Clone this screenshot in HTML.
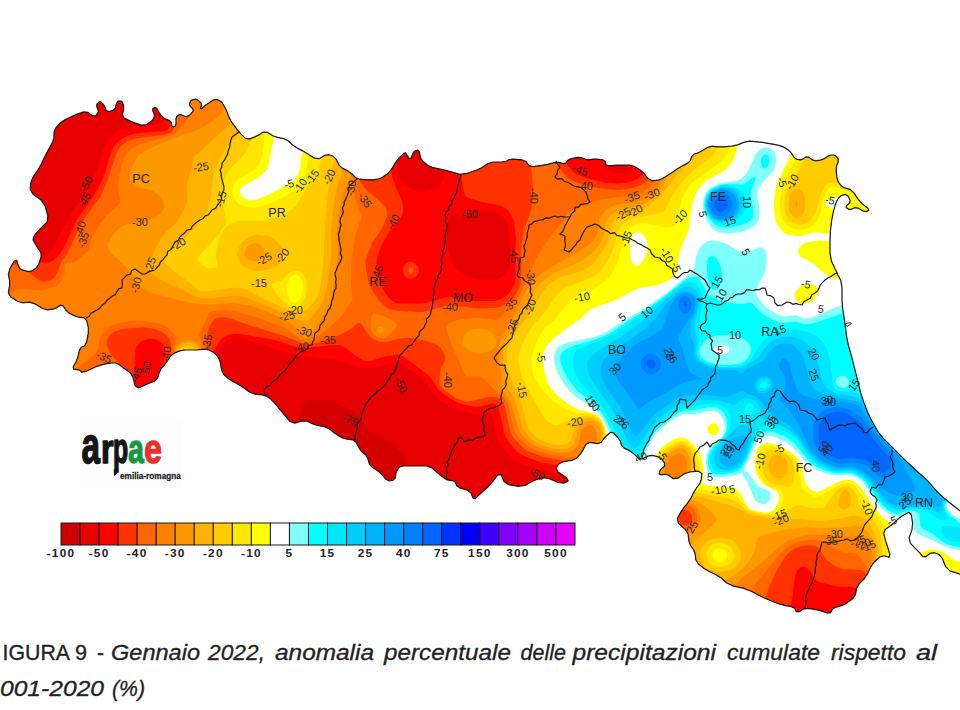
<!DOCTYPE html>
<html><head><meta charset="utf-8"><title>Figura 9</title>
<style>
html,body{margin:0;padding:0;background:#fff;}
body{width:960px;height:710px;overflow:hidden;position:relative;font-family:"Liberation Sans",sans-serif;}
svg{position:absolute;left:0;top:0;}
</style></head><body>
<svg width="960" height="710" viewBox="0 0 960 710">
<defs><clipPath id="reg"><path d="M16.7,260.2 L18.3,265.8 L19.7,268.4 L21.3,269.6 L23.8,270.4 L28.2,271.6 L31.8,270.9 L36.2,268.1 L38.9,264.1 L41.1,256.9 L40.9,252.5 L38.1,248.5 L35.9,245.0 L33.1,240.0 L34.0,235.8 L39.0,230.2 L42.8,226.2 L47.2,221.8 L47.9,216.0 L45.1,206.0 L40.9,199.8 L33.1,194.2 L30.2,189.4 L30.8,182.6 L33.0,177.1 L38.0,169.9 L41.3,164.1 L44.7,156.9 L47.8,150.9 L52.2,143.1 L54.0,137.8 L54.0,132.2 L55.8,128.0 L60.2,123.0 L64.9,119.7 L72.1,116.3 L77.4,114.1 L83.6,111.9 L87.8,112.3 L92.2,115.7 L95.1,115.9 L97.9,113.1 L98.3,110.5 L96.7,106.5 L96.9,104.1 L99.1,101.9 L100.9,101.9 L103.1,104.1 L104.7,106.5 L106.3,110.5 L108.8,111.6 L113.2,110.4 L115.4,108.0 L116.6,103.0 L118.1,101.0 L120.9,101.0 L122.4,102.3 L123.6,105.7 L123.6,109.2 L122.4,114.8 L124.2,118.1 L129.8,120.9 L134.6,122.9 L141.4,125.1 L145.8,124.9 L150.2,122.1 L152.7,119.9 L154.3,117.1 L154.3,114.5 L152.7,110.5 L152.9,108.6 L155.1,107.4 L156.9,108.5 L159.1,112.5 L161.1,115.1 L163.9,117.9 L166.3,119.4 L169.7,120.6 L171.2,122.3 L171.8,125.7 L172.9,126.8 L175.1,126.2 L176.0,124.0 L176.0,119.0 L176.9,116.3 L179.1,114.7 L181.3,114.7 L184.7,116.3 L186.9,116.6 L189.1,115.4 L190.9,113.9 L193.1,111.1 L192.9,108.9 L190.1,106.1 L189.4,103.9 L190.6,101.1 L192.3,99.8 L195.7,99.2 L198.1,100.1 L200.9,102.9 L201.6,105.3 L200.4,108.7 L201.5,108.7 L205.5,105.3 L208.8,102.9 L213.2,100.1 L216.3,99.4 L219.7,100.6 L222.1,102.8 L224.9,107.2 L226.9,111.4 L229.1,117.6 L232.0,122.6 L237.0,129.4 L240.8,133.8 L245.2,138.2 L249.2,139.1 L254.8,136.9 L258.8,134.9 L263.2,132.1 L267.2,132.3 L272.8,135.7 L277.4,137.4 L283.6,138.6 L288.0,140.8 L293.0,145.2 L297.2,148.1 L302.8,150.9 L307.6,153.8 L314.4,158.2 L319.2,158.7 L324.8,155.3 L328.8,154.7 L333.2,156.3 L336.1,159.2 L338.9,164.8 L342.2,168.1 L347.8,170.9 L351.5,173.5 L355.5,177.5 L359.9,179.2 L367.1,179.8 L372.2,179.8 L377.8,179.2 L382.2,177.5 L387.8,173.5 L391.5,169.4 L395.5,162.6 L398.8,158.2 L403.2,153.8 L405.4,152.7 L406.6,154.3 L407.7,156.1 L409.3,158.9 L410.9,158.0 L413.1,153.0 L415.1,150.8 L417.9,150.2 L419.4,152.2 L420.6,157.8 L423.0,161.5 L428.0,165.5 L432.2,167.4 L437.8,168.6 L442.6,169.7 L449.4,171.3 L454.2,172.7 L459.8,174.3 L466.0,173.7 L476.0,170.3 L482.2,167.5 L487.8,163.5 L493.3,162.0 L501.7,162.0 L506.1,161.3 L508.9,159.7 L513.3,159.2 L521.7,159.8 L526.1,161.5 L528.9,165.5 L533.3,166.6 L541.7,165.4 L547.6,164.3 L554.4,162.7 L558.8,162.4 L563.2,163.6 L565.9,162.9 L568.1,160.1 L571.4,158.6 L577.6,157.4 L581.5,157.7 L585.5,159.3 L588.8,159.8 L593.2,159.2 L597.2,159.2 L602.8,159.8 L605.2,161.3 L605.8,164.7 L609.1,165.8 L616.9,165.2 L622.6,165.0 L629.4,165.0 L634.2,166.3 L639.8,169.7 L643.8,173.2 L648.2,178.8 L652.2,180.8 L657.8,180.2 L662.2,178.7 L667.8,175.3 L672.2,172.5 L677.8,168.5 L682.2,165.9 L687.8,163.1 L690.4,160.5 L691.6,156.5 L693.8,154.3 L698.2,152.7 L702.2,150.7 L707.8,147.3 L712.2,146.2 L717.8,146.8 L723.3,146.8 L731.7,146.2 L737.6,144.9 L744.4,142.1 L749.9,141.2 L757.1,141.8 L762.6,142.4 L769.4,143.6 L774.2,144.4 L779.8,145.6 L783.8,147.1 L788.2,149.9 L791.1,152.8 L793.9,157.2 L796.5,159.2 L800.5,159.8 L803.1,159.1 L805.9,156.9 L808.5,157.1 L812.5,159.9 L815.8,160.8 L820.2,160.2 L823.8,158.9 L828.2,156.1 L831.1,155.0 L833.9,155.0 L835.9,156.1 L838.1,158.9 L838.3,161.5 L836.7,165.5 L836.2,169.9 L836.8,177.1 L838.1,181.5 L840.9,185.5 L844.2,187.7 L849.8,189.3 L853.8,192.6 L858.2,199.4 L862.2,203.8 L867.8,208.2 L868.9,210.4 L866.1,211.6 L863.0,210.9 L858.0,208.1 L854.7,207.7 L851.3,209.3 L848.9,209.3 L846.1,207.7 L846.3,205.9 L849.7,203.1 L850.1,200.2 L847.9,195.8 L845.5,194.4 L841.5,195.6 L839.1,197.3 L836.9,200.7 L835.1,205.3 L832.9,213.7 L831.6,221.0 L830.4,231.0 L830.0,240.1 L830.0,252.9 L831.5,261.3 L835.5,269.7 L838.1,275.2 L840.9,280.8 L842.0,287.8 L842.0,300.2 L842.7,309.0 L844.3,319.0 L845.4,326.7 L846.6,336.3 L848.1,344.0 L850.9,354.0 L853.1,362.4 L855.9,373.6 L858.1,382.4 L860.9,393.6 L863.8,402.4 L868.2,413.6 L872.2,421.7 L877.8,431.3 L883.3,438.3 L891.7,446.7 L898.3,453.3 L906.7,461.7 L913.7,468.3 L923.3,476.7 L929.9,483.3 L937.1,491.7 L944.2,498.3 L954.8,506.7 L962.5,512.6 L971.5,519.4 L975.0,534.8 L975.0,567.2 L971.7,578.7 L963.3,575.3 L957.1,573.1 L949.9,570.9 L945.7,566.7 L942.3,558.3 L939.0,554.3 L934.0,552.7 L930.2,553.3 L925.8,556.7 L922.9,556.7 L920.1,553.3 L916.6,549.6 L910.4,543.4 L909.1,537.9 L911.9,530.1 L912.6,523.5 L911.4,514.5 L908.6,512.3 L902.4,515.7 L898.5,518.5 L894.5,522.5 L890.8,525.5 L885.2,529.5 L883.7,533.4 L885.3,539.6 L887.1,545.5 L889.9,554.5 L889.0,557.3 L884.0,555.7 L879.8,557.0 L874.2,562.0 L870.7,566.9 L867.3,574.1 L864.0,579.0 L859.0,584.0 L856.6,588.4 L855.4,594.6 L852.6,598.8 L846.4,603.2 L841.6,605.7 L835.4,607.3 L832.3,609.3 L830.7,612.7 L827.6,613.1 L821.4,610.9 L815.9,609.6 L808.1,608.4 L803.2,609.1 L798.8,611.9 L796.3,611.7 L794.7,608.3 L791.4,606.6 L784.6,605.4 L778.5,603.7 L769.5,600.3 L761.8,596.8 L751.2,591.2 L743.0,588.1 L733.0,585.9 L726.8,583.0 L721.2,578.0 L716.1,574.7 L708.9,571.3 L703.8,568.2 L698.2,563.8 L695.8,559.8 L695.2,554.2 L693.7,550.0 L690.3,545.0 L688.8,540.6 L688.2,534.4 L685.4,529.6 L678.6,523.4 L677.3,518.6 L680.7,512.4 L683.8,507.8 L688.2,502.2 L691.1,497.8 L693.9,492.2 L696.3,488.2 L699.7,483.8 L701.2,479.6 L701.8,473.4 L698.7,471.2 L690.3,471.8 L684.4,473.8 L677.6,478.2 L673.2,478.7 L668.8,475.3 L665.2,474.2 L660.8,474.8 L659.2,473.9 L659.8,471.1 L661.3,468.9 L664.7,466.1 L664.7,463.2 L661.3,458.8 L657.8,456.6 L652.2,455.4 L647.8,456.1 L642.2,458.9 L638.2,458.2 L633.8,453.8 L629.8,450.9 L624.2,448.1 L621.6,445.5 L620.4,441.5 L618.2,438.0 L613.8,433.0 L610.5,432.3 L606.5,435.7 L603.9,438.5 L601.1,442.5 L597.1,443.6 L589.9,442.4 L585.9,444.2 L583.1,449.8 L580.5,453.8 L576.5,458.2 L571.7,460.4 L563.3,461.6 L558.9,463.8 L556.1,468.2 L558.3,472.2 L566.7,477.8 L568.2,480.9 L563.8,483.1 L558.3,482.5 L548.7,478.5 L542.8,477.7 L537.2,479.3 L532.1,481.5 L524.9,485.5 L518.3,486.3 L508.7,484.7 L503.9,481.4 L501.1,474.6 L497.8,474.9 L492.2,482.1 L487.8,487.0 L482.2,492.0 L478.7,495.3 L475.3,498.7 L473.1,498.0 L470.9,493.0 L467.1,490.1 L459.9,487.9 L456.6,485.7 L455.4,482.3 L453.2,480.8 L448.8,480.2 L445.5,478.9 L441.5,476.1 L437.8,473.0 L432.2,468.0 L426.7,466.0 L418.3,466.0 L411.7,466.0 L403.3,466.0 L399.1,467.3 L396.9,470.7 L395.8,473.8 L395.2,478.2 L393.2,480.2 L388.8,480.8 L385.5,479.0 L381.5,474.0 L377.8,470.7 L372.2,467.3 L369.3,463.8 L367.7,458.2 L365.5,454.7 L361.5,451.3 L358.9,447.8 L356.1,442.2 L352.8,439.8 L347.2,439.2 L343.2,438.1 L338.8,435.9 L334.8,433.2 L329.2,428.8 L324.4,426.6 L317.6,425.4 L312.8,423.9 L307.2,421.1 L302.1,420.9 L294.9,423.1 L289.8,421.4 L284.2,414.6 L279.8,409.4 L274.2,402.6 L270.5,398.9 L266.5,396.1 L262.1,394.8 L254.9,394.2 L249.4,392.0 L242.6,387.0 L237.8,383.9 L232.2,381.1 L228.2,378.5 L223.8,374.5 L221.6,370.1 L220.4,362.9 L218.9,358.5 L216.1,354.5 L213.2,352.1 L208.8,349.9 L204.4,349.2 L197.6,349.8 L192.1,350.0 L184.9,350.0 L179.8,350.9 L174.2,353.1 L170.7,356.0 L167.3,361.0 L164.7,364.5 L161.3,368.5 L159.3,372.2 L157.7,377.8 L154.8,380.9 L149.2,383.1 L144.6,385.1 L138.4,387.9 L135.1,385.7 L132.9,377.3 L130.5,372.9 L126.5,370.1 L123.2,367.7 L118.8,364.3 L115.5,363.0 L111.5,363.0 L107.8,363.4 L102.2,364.6 L96.0,366.8 L86.0,371.2 L81.6,372.3 L80.4,370.7 L78.2,369.8 L73.8,369.2 L73.1,367.0 L75.9,362.0 L77.7,357.4 L79.3,350.6 L81.3,347.3 L84.7,345.7 L86.7,341.7 L88.3,333.3 L88.3,327.4 L86.7,320.6 L84.0,317.8 L79.0,317.2 L74.8,315.9 L69.2,313.1 L65.9,310.2 L63.1,305.8 L60.5,305.1 L56.5,307.9 L52.8,309.2 L47.2,309.8 L42.1,308.2 L34.9,303.8 L29.4,302.2 L22.6,302.8 L17.4,301.2 L10.6,296.8 L8.4,292.4 L9.6,285.6 L9.6,280.6 L8.4,274.4 L9.8,268.9 L14.2,261.1Z"/></clipPath></defs>
<g clip-path="url(#reg)">
<rect x="0" y="90" width="960" height="540" fill="#d40000"/>
<path fill="#e60000" fill-rule="evenodd" d="M983.0,709.1 0.0,709.1 -0.1,0.0 983.0,-0.1 983.0,709.1ZM388.9,488.0 400.0,482.7 403.1,480.0 404.9,477.0 405.5,473.0 405.4,461.0 404.2,457.0 401.1,453.0 390.0,442.7 369.0,429.3 366.9,427.0 359.0,415.2 356.0,412.7 350.0,409.2 338.0,403.8 332.0,401.9 310.0,399.7 307.0,400.1 304.1,402.0 302.7,405.0 298.2,424.0 298.1,428.0 299.7,431.0 302.0,432.6 324.2,443.0 331.0,446.9 356.0,467.8 380.0,486.4 384.0,488.4 388.9,488.0Z"/>
<path fill="#ff0000" fill-rule="evenodd" d="M983.0,709.0 0.0,709.0 0.0,256.1 6.0,258.9 20.1,259.0 41.7,256.0 45.6,255.0 48.7,253.0 53.0,248.0 63.5,227.0 69.8,216.0 85.0,193.7 88.0,188.4 98.0,168.2 103.4,149.0 106.3,142.0 108.3,139.0 116.0,132.5 119.0,130.6 124.0,128.6 134.0,126.5 153.6,125.0 161.0,123.8 162.2,123.0 163.0,121.5 163.4,117.0 163.3,96.0 162.6,94.0 160.1,93.0 7.4,93.0 4.0,94.0 2.0,95.8 0.0,96.6 -0.0,0.0 983.0,-0.0 983.0,709.0ZM426.0,191.0 435.0,189.0 439.0,186.9 441.0,184.1 443.6,178.0 444.0,176.0 443.2,173.0 441.0,170.1 438.0,167.5 425.0,160.2 418.0,149.8 415.0,149.2 409.1,150.0 406.8,151.0 400.7,155.0 398.0,160.0 396.9,169.0 399.0,176.4 403.0,182.7 406.4,186.0 409.6,188.0 415.2,190.0 421.9,191.0 426.0,191.0ZM625.0,173.0 632.2,171.0 636.6,167.0 637.6,163.0 637.0,156.4 636.0,153.8 634.8,153.0 632.0,152.7 608.0,152.7 603.2,153.0 602.1,154.0 603.0,164.0 605.5,168.0 610.2,171.0 615.1,173.0 625.0,173.0ZM495.8,280.0 501.0,278.0 506.0,273.7 509.0,267.1 510.0,260.7 510.0,248.0 508.0,226.0 507.0,222.4 505.0,219.0 501.1,215.0 497.4,213.0 482.0,210.9 461.0,212.4 455.0,214.0 451.0,216.0 449.0,218.1 447.5,222.0 446.0,231.0 446.1,238.0 447.4,247.0 448.9,253.0 451.0,258.2 456.5,268.0 458.2,270.0 462.2,273.0 476.0,279.1 484.0,280.1 495.8,280.0ZM566.1,517.0 571.0,516.2 572.0,515.0 572.3,513.0 570.6,485.0 570.0,481.7 568.1,479.0 558.3,474.0 539.0,469.6 523.0,464.2 517.0,461.5 513.0,459.0 504.5,450.0 499.5,443.0 495.7,431.0 493.0,418.3 491.6,415.0 490.0,413.1 488.0,412.5 480.0,414.0 473.0,413.7 459.0,410.3 449.0,406.3 439.0,399.8 435.0,396.3 426.7,384.0 422.2,379.0 413.0,371.0 403.0,364.7 399.0,363.6 394.0,363.4 370.0,368.4 359.0,368.3 353.0,366.4 340.0,360.6 335.0,359.7 318.0,358.5 294.0,354.5 266.0,346.3 248.4,340.0 239.0,337.9 231.5,339.0 228.4,340.0 226.0,341.5 223.1,345.0 218.9,352.0 210.0,362.7 208.0,366.0 206.9,369.0 206.0,377.0 202.5,499.0 202.4,514.0 203.5,516.0 205.0,516.8 384.0,518.0 566.1,517.0Z"/>
<path fill="#ff3300" fill-rule="evenodd" d="M983.0,709.0 0.0,709.0 0.0,260.0 4.0,261.7 6.0,261.9 26.0,262.5 39.0,262.2 45.0,262.7 50.0,262.1 54.0,259.8 59.0,255.0 63.0,248.9 77.3,219.0 94.3,195.0 99.3,186.0 105.0,172.5 111.6,151.0 114.6,145.0 122.0,138.7 127.0,136.2 134.0,133.9 139.0,132.9 164.0,131.1 167.0,130.2 168.9,128.0 169.7,125.0 169.9,109.0 169.8,97.0 169.3,94.0 167.5,92.0 163.0,90.8 7.0,90.6 4.0,91.0 0.0,93.4 -0.0,0.0 983.0,-0.0 983.0,709.0ZM425.9,303.0 445.0,297.6 449.0,297.1 457.0,297.7 475.0,301.0 494.0,301.1 498.6,300.0 507.0,295.5 511.0,290.8 514.0,284.8 515.3,281.0 515.9,267.0 515.2,253.0 515.9,239.0 514.3,222.0 512.2,217.0 508.3,211.0 506.0,208.5 501.0,205.7 486.4,203.0 471.6,199.0 467.0,197.2 465.0,195.2 463.4,191.0 462.1,182.0 460.3,157.0 459.9,155.0 458.4,153.0 456.6,152.0 454.0,151.6 425.0,150.5 422.0,149.4 419.0,146.7 416.0,146.1 408.0,147.3 403.0,149.5 396.2,151.0 393.4,153.0 392.5,155.0 391.5,163.0 391.5,173.0 392.6,178.0 395.6,187.0 402.1,201.0 403.1,206.0 403.0,212.0 402.4,215.0 400.8,218.0 389.1,232.0 381.0,246.6 377.0,258.1 376.4,265.0 378.0,276.2 380.0,283.4 387.0,295.7 392.0,301.0 395.9,303.0 399.0,303.4 420.0,303.6 425.9,303.0ZM623.4,183.0 630.0,181.9 636.0,179.8 640.0,177.1 643.0,173.7 644.5,168.0 643.8,156.0 642.7,153.0 640.1,151.0 637.0,149.9 633.0,149.6 605.0,149.5 589.0,151.2 568.0,151.9 565.0,153.1 564.6,155.0 564.9,159.0 566.2,164.0 572.3,171.0 576.4,174.0 586.5,178.0 603.0,182.2 618.0,183.6 623.4,183.0ZM414.0,278.1 411.0,278.8 408.0,278.3 405.0,276.0 403.3,273.0 402.9,270.0 403.3,267.0 405.4,264.0 408.0,262.3 411.0,261.7 414.0,262.5 417.0,264.9 418.4,267.0 418.9,270.0 418.6,273.0 416.8,276.0 414.0,278.1ZM568.4,519.0 573.4,518.0 575.3,516.0 575.8,514.0 574.5,480.0 573.4,475.0 571.5,472.0 565.0,467.8 561.2,466.0 540.0,461.9 525.0,456.5 520.5,454.0 517.0,451.4 510.2,444.0 505.4,437.0 504.2,434.0 499.2,410.0 498.0,407.0 496.0,404.5 494.0,403.6 491.0,403.4 480.0,406.4 475.0,406.5 463.0,404.6 455.0,401.5 443.0,393.5 438.0,389.0 432.0,379.4 428.0,375.0 408.0,359.5 403.0,356.6 398.0,354.9 395.0,354.7 381.0,357.5 370.0,361.2 366.0,361.2 362.5,360.0 355.0,355.2 344.6,347.0 341.0,345.4 338.0,345.0 329.0,345.3 309.0,348.1 298.0,347.6 274.0,339.7 242.0,334.3 235.0,333.8 229.0,334.6 225.0,336.4 222.0,338.7 218.2,343.0 214.0,350.2 207.2,358.0 205.0,361.8 203.5,368.0 203.1,375.0 199.9,498.0 199.9,514.0 201.0,516.7 203.0,518.2 208.0,519.0 568.4,519.0ZM145.9,393.0 148.0,392.2 149.4,391.0 153.0,385.0 160.0,370.4 165.0,357.0 165.1,349.0 163.9,345.0 159.7,341.0 154.0,339.0 147.8,339.0 142.1,341.0 137.5,345.0 136.3,347.0 135.6,350.0 134.7,359.0 134.1,376.0 132.4,391.0 133.0,392.2 134.9,393.0 145.9,393.0ZM855.5,636.0 858.7,635.0 859.3,633.0 858.2,594.0 856.9,589.0 855.7,588.0 852.6,587.0 842.0,586.8 834.0,585.8 820.0,582.2 817.0,580.9 815.0,579.2 811.0,572.0 806.0,567.0 804.0,566.5 802.0,566.8 798.1,569.0 796.0,573.2 794.2,582.0 791.8,601.0 789.1,617.0 789.6,632.0 790.5,635.0 792.9,636.0 795.0,636.1 855.5,636.0Z"/>
<path fill="#ff6600" fill-rule="evenodd" d="M983.0,709.0 0.0,709.0 0.0,263.2 4.0,264.5 17.0,264.7 21.0,265.7 37.0,279.1 41.0,281.3 44.0,281.9 46.0,281.6 51.0,280.0 53.0,278.6 55.0,276.5 57.0,273.2 61.1,262.0 64.9,257.0 69.1,250.0 78.0,230.5 83.0,220.9 100.8,196.0 107.5,181.0 116.0,154.4 119.4,148.0 123.0,144.4 126.6,142.0 130.0,140.4 137.0,138.2 165.0,134.7 170.6,133.0 172.6,131.0 174.1,126.0 174.8,111.0 174.3,98.0 173.3,94.0 171.6,92.0 169.9,91.0 164.0,89.7 7.0,89.5 4.0,89.9 0.0,92.1 -0.0,0.0 983.0,-0.0 983.0,709.0ZM427.1,311.0 445.0,306.0 450.0,305.3 476.0,308.3 496.0,308.1 502.0,305.9 509.0,302.1 512.0,299.7 515.0,295.6 519.0,288.6 520.7,283.0 521.4,266.0 520.8,254.0 521.6,245.0 525.0,227.2 530.2,213.0 531.6,207.0 533.1,189.0 531.2,168.0 531.0,155.0 530.6,153.0 529.0,150.9 525.0,149.7 485.0,149.4 468.0,148.7 455.0,147.3 425.0,147.1 423.0,146.5 420.0,144.2 416.0,143.4 408.0,144.5 401.8,147.0 385.0,148.9 363.0,150.5 361.0,151.1 359.0,152.9 358.3,156.0 358.3,174.0 359.0,178.7 360.0,181.2 365.0,188.6 382.7,204.0 385.7,209.0 386.9,213.0 386.7,217.0 383.9,224.0 380.0,231.4 371.6,244.0 366.1,259.0 365.7,265.0 366.8,274.0 368.3,281.0 370.2,286.0 374.5,294.0 378.5,300.0 386.0,306.9 390.0,309.4 399.0,310.9 417.0,311.9 422.0,311.9 427.1,311.0ZM627.4,189.0 635.0,187.5 640.0,185.7 646.0,181.7 649.0,178.2 650.4,173.0 651.3,155.0 650.6,152.0 648.0,149.7 638.0,147.5 633.0,147.1 569.0,147.3 561.0,148.4 557.7,151.0 556.8,155.0 558.4,167.0 562.0,172.0 568.0,177.8 571.0,179.9 576.0,182.3 582.0,184.3 595.0,187.5 606.0,189.2 619.0,190.0 627.4,189.0ZM411.0,273.0 409.1,272.0 408.6,270.0 409.5,268.0 411.0,267.6 412.2,268.0 413.3,270.0 412.8,272.0 411.0,273.0ZM567.8,520.0 573.0,519.5 576.7,518.0 578.9,516.0 579.8,514.0 580.2,509.0 580.0,475.0 579.6,471.0 578.0,467.5 575.0,465.3 564.7,461.0 542.0,456.4 528.0,451.0 523.2,448.0 513.0,437.3 510.9,434.0 504.5,405.0 503.0,401.3 500.8,399.0 494.0,397.1 489.0,396.9 470.0,401.2 465.0,401.4 455.9,398.0 444.5,390.0 440.2,386.0 439.3,383.0 440.4,371.0 441.7,367.0 444.5,361.0 445.1,357.0 444.1,354.0 441.0,348.2 437.6,345.0 426.0,341.0 416.0,338.7 408.0,337.7 399.0,338.5 386.0,342.2 379.0,341.5 374.0,339.5 370.5,337.0 366.4,332.0 361.0,323.4 359.0,322.6 357.0,323.4 352.0,327.9 345.6,332.0 334.9,337.0 317.3,343.0 307.0,344.3 300.0,342.7 294.0,339.8 281.0,334.9 247.0,324.4 232.0,319.0 226.0,317.6 220.0,317.3 216.1,318.0 214.0,319.6 211.0,323.5 209.0,328.1 207.7,333.0 206.8,345.0 205.7,350.0 200.0,363.0 199.1,372.0 197.5,434.0 197.5,499.0 198.2,514.0 199.5,517.0 202.0,519.0 205.0,519.9 208.0,520.0 567.8,520.0ZM148.5,399.0 153.0,396.4 158.3,389.0 161.6,383.0 165.6,373.0 171.1,355.0 171.5,348.0 170.0,340.0 166.0,335.0 161.0,331.2 155.2,329.0 148.0,327.8 142.0,327.2 126.0,328.6 118.9,330.0 113.7,332.0 110.0,335.0 107.8,338.0 106.8,341.0 107.0,345.3 110.0,353.3 123.0,368.3 125.0,371.5 126.1,377.0 125.8,392.0 126.9,396.0 129.0,398.3 132.0,399.6 144.0,399.7 148.5,399.0ZM689.1,525.0 691.0,522.8 692.0,520.0 692.0,516.3 691.0,513.7 689.0,511.3 686.4,510.0 682.6,510.0 680.1,511.0 679.0,512.2 678.7,514.0 680.0,523.3 681.6,525.0 683.0,525.4 689.1,525.0ZM860.3,639.0 868.0,637.8 870.4,636.0 871.0,634.0 867.1,583.0 866.0,575.2 864.9,572.0 863.9,571.0 861.0,570.1 844.0,569.3 840.0,568.5 836.5,567.0 826.6,560.0 819.0,548.5 817.4,547.0 815.0,545.8 806.0,545.5 801.3,546.0 795.7,548.0 790.0,551.7 785.7,556.0 778.0,568.0 769.8,585.0 764.5,600.0 763.8,605.0 764.0,625.3 764.6,633.0 766.0,636.0 767.5,637.0 770.0,637.5 793.0,639.3 860.3,639.0Z"/>
<path fill="#ff8000" fill-rule="evenodd" d="M983.0,709.0 0.0,709.0 0.0,300.7 6.0,296.2 18.0,289.6 24.0,288.9 35.0,290.2 42.0,290.2 55.0,286.8 59.0,284.1 61.7,280.0 64.5,274.0 64.9,271.0 64.2,266.0 64.9,264.0 67.0,263.0 73.0,262.2 77.0,260.6 87.8,251.0 88.9,249.0 91.9,238.0 97.2,228.0 101.4,222.0 107.3,215.0 120.0,203.0 120.2,200.0 118.1,188.0 118.3,179.0 122.5,163.0 125.0,157.0 127.9,152.0 132.3,148.0 140.0,144.3 168.0,136.8 174.2,134.0 182.1,126.0 190.3,115.0 193.1,110.0 191.7,107.0 177.1,93.0 171.0,89.8 165.0,88.7 7.0,88.5 4.0,88.9 0.0,90.8 -0.0,0.0 983.0,-0.0 983.0,709.0ZM565.2,521.0 572.0,520.8 578.0,519.3 583.8,516.0 586.6,513.0 587.0,510.0 586.9,471.0 585.8,464.0 583.9,459.0 583.0,457.7 581.0,456.9 570.0,457.4 552.0,454.9 545.0,453.4 532.0,448.5 528.0,446.3 525.0,443.8 516.8,435.0 515.0,432.0 508.0,404.0 505.0,398.6 496.8,392.0 484.0,379.3 481.0,377.1 477.0,376.0 467.0,376.6 464.9,375.0 459.2,361.0 451.9,346.0 446.4,329.0 446.2,326.0 448.0,323.9 453.0,321.5 460.0,319.6 469.0,318.2 482.0,318.1 497.0,319.9 500.0,318.1 506.0,312.6 513.0,305.8 517.0,300.1 524.6,285.0 535.0,260.6 540.0,251.5 550.9,236.0 563.0,221.8 564.2,220.0 565.8,215.0 568.0,213.1 585.1,205.0 598.0,200.3 615.0,197.2 628.0,196.1 640.0,193.6 644.0,191.8 651.0,186.2 655.0,180.0 656.2,175.0 657.0,155.0 656.0,148.6 653.7,143.0 650.0,137.8 634.0,121.3 631.0,119.7 559.0,119.5 544.0,121.5 530.0,119.5 435.0,119.5 417.0,117.6 383.0,119.9 380.0,122.3 361.0,141.4 357.0,146.8 354.9,153.0 354.1,191.0 355.8,201.0 361.4,217.0 355.4,235.0 351.6,260.0 351.0,266.0 351.0,282.0 352.5,300.0 341.9,315.0 337.5,320.0 321.0,334.5 312.4,340.0 308.0,341.5 305.0,341.5 301.4,340.0 294.0,333.9 285.0,328.3 267.0,320.9 253.0,316.1 236.0,311.5 228.0,310.1 221.0,310.1 212.0,311.3 208.8,313.0 207.0,318.8 203.4,325.0 199.1,334.0 199.0,336.0 201.6,342.0 202.4,346.0 202.6,351.0 201.7,354.0 199.0,358.5 192.0,367.7 186.0,373.7 183.0,375.5 181.6,375.0 180.0,372.5 175.0,360.4 173.8,356.0 173.8,350.0 176.5,339.0 176.4,337.0 175.0,334.7 169.0,328.7 166.0,326.3 162.0,324.4 145.0,321.1 131.0,321.3 122.0,322.4 113.0,324.6 108.0,327.2 103.5,332.0 100.2,337.0 99.3,340.0 98.4,349.0 96.0,353.0 92.8,356.0 68.0,374.2 63.0,377.5 58.0,379.7 56.9,381.0 57.3,383.0 59.6,387.0 67.5,397.0 70.3,411.0 75.0,423.0 80.8,432.0 89.2,441.0 99.0,448.3 111.0,454.1 122.0,456.9 137.0,458.1 138.9,459.0 142.3,463.0 193.3,514.0 199.0,518.6 203.0,520.5 209.0,521.0 565.2,521.0ZM386.0,337.1 383.0,338.0 379.0,337.6 375.6,336.0 372.8,333.0 371.1,329.0 370.6,324.0 371.6,316.0 373.0,313.7 376.0,313.7 385.0,316.8 394.0,321.3 397.0,324.0 396.8,326.0 394.1,330.0 389.2,335.0 386.0,337.1ZM691.6,529.0 695.2,525.0 696.8,521.0 696.6,515.0 694.7,510.0 691.0,506.6 687.0,505.0 681.0,505.4 676.6,507.0 675.0,509.2 674.4,513.0 675.9,524.0 677.0,527.0 679.0,529.0 682.0,529.9 689.0,529.8 691.6,529.0ZM866.7,640.0 870.0,639.3 872.8,638.0 874.8,636.0 875.2,634.0 868.0,572.4 867.0,567.9 865.0,563.4 860.0,556.8 856.0,553.4 844.0,552.4 836.0,549.4 823.6,542.0 817.0,540.0 812.0,539.5 805.0,540.2 794.0,543.0 790.0,545.1 785.0,549.0 776.4,558.0 755.2,584.0 749.2,593.0 747.2,597.0 746.5,602.0 746.5,620.0 746.9,623.0 748.3,625.0 757.3,634.0 761.1,637.0 765.0,639.0 770.0,640.0 794.0,640.6 855.0,640.6 866.7,640.0Z"/>
<path fill="#ff9900" fill-rule="evenodd" d="M983.0,709.0 0.0,709.0 0.0,516.9 4.0,519.1 7.0,519.5 167.0,520.6 192.0,521.5 208.0,523.4 567.0,523.4 576.0,522.8 587.0,521.2 590.0,520.5 592.0,519.3 594.3,516.0 594.8,513.0 593.5,458.0 594.4,452.0 596.2,446.0 597.1,439.0 596.8,434.0 595.0,428.8 593.0,426.3 590.0,425.2 586.1,426.0 584.0,427.5 581.0,431.6 579.3,441.0 577.5,446.0 573.0,450.7 569.0,452.4 559.0,452.8 547.0,450.5 535.0,446.1 529.0,442.3 521.2,434.0 519.2,431.0 511.2,403.0 509.1,399.0 503.8,393.0 502.1,390.0 501.6,387.0 501.4,376.0 498.7,360.0 498.6,346.0 499.6,343.0 509.6,322.0 518.4,307.0 525.8,291.0 531.0,283.7 535.0,279.2 541.0,273.6 547.0,269.5 586.2,247.0 590.2,244.0 593.0,240.9 597.1,234.0 598.2,230.0 598.8,222.0 600.5,217.0 604.9,211.0 607.0,209.1 612.0,206.5 617.0,204.7 631.0,202.6 644.0,199.4 648.3,197.0 655.0,191.0 659.4,184.0 661.7,178.0 662.7,151.0 661.8,96.0 661.4,94.0 660.0,91.6 658.0,90.2 656.0,89.6 633.0,89.1 398.0,89.0 362.0,89.5 353.0,90.2 352.1,91.0 353.3,97.0 353.4,127.0 352.0,153.0 351.7,172.0 350.5,178.0 345.0,189.0 342.4,196.0 340.0,208.3 336.9,234.0 338.0,250.0 337.9,257.0 335.9,268.0 333.5,288.0 329.5,304.0 325.4,313.0 312.3,333.0 308.0,337.2 306.3,338.0 305.0,337.9 303.0,336.4 298.0,329.8 289.0,322.0 269.0,312.1 251.0,305.9 246.0,304.8 231.0,303.1 209.0,304.6 197.0,303.8 182.0,300.9 154.0,293.4 148.0,291.2 139.0,286.3 135.1,283.0 126.4,267.0 114.1,256.0 109.9,251.0 108.3,248.0 107.9,245.0 109.0,241.8 115.0,232.4 120.0,227.4 125.0,224.9 148.0,220.4 156.0,217.1 161.0,213.3 163.9,208.0 164.1,205.0 163.4,201.0 161.6,198.0 158.0,194.2 152.0,190.5 142.2,188.0 137.0,186.0 132.5,183.0 130.0,180.4 129.6,178.0 131.9,168.0 134.0,163.1 138.0,156.0 139.9,154.0 143.0,152.0 159.4,144.0 180.0,136.1 197.0,130.3 203.5,127.0 214.0,119.9 219.8,115.0 223.0,111.1 224.0,109.0 225.0,104.5 225.3,95.0 226.0,91.0 225.0,90.0 223.0,89.7 181.1,88.0 169.0,86.4 162.0,86.1 7.0,86.1 4.0,86.3 0.0,87.9 -0.0,0.0 983.0,-0.0 983.0,709.0ZM381.0,333.1 379.0,332.9 377.5,331.0 378.0,328.0 380.0,326.6 382.1,327.0 383.5,329.0 383.0,331.4 381.0,333.1ZM486.0,352.2 482.0,352.7 474.0,351.9 470.0,350.8 465.7,348.0 463.0,344.5 462.2,341.0 463.0,337.1 464.8,334.0 467.2,332.0 471.0,330.1 478.0,328.8 486.0,329.5 489.5,331.0 492.4,333.0 494.4,335.0 495.9,338.0 496.5,342.0 496.1,345.0 494.9,347.0 492.0,349.7 486.0,352.2ZM191.0,361.3 188.0,361.6 184.0,360.6 178.0,357.4 175.7,355.0 175.0,352.0 176.0,347.6 178.0,344.5 181.0,342.3 187.0,340.4 191.0,340.4 196.0,342.3 199.6,346.0 200.9,350.0 200.0,354.2 196.0,358.7 191.0,361.3ZM668.6,480.0 682.3,478.0 685.3,476.0 686.0,474.0 686.7,467.0 686.5,462.0 685.0,457.1 682.0,453.8 679.0,453.4 674.1,455.0 670.0,458.4 667.0,462.2 665.0,469.5 663.7,478.0 664.0,479.2 664.8,480.0 668.6,480.0ZM688.1,533.0 691.0,532.7 694.0,531.2 697.8,527.0 699.6,524.0 700.4,521.0 700.5,518.0 698.7,510.0 695.2,506.0 692.0,503.7 689.0,502.4 685.0,502.0 675.0,503.9 672.6,506.0 671.8,511.0 674.2,528.0 676.0,530.8 679.0,532.7 682.0,533.1 688.1,533.0ZM833.9,643.0 857.0,642.7 869.0,641.7 874.0,639.8 876.1,638.0 877.4,636.0 877.8,633.0 877.1,627.0 870.1,576.0 870.3,569.0 872.2,559.0 871.4,550.0 869.0,542.5 866.0,538.4 864.0,536.6 860.0,535.7 848.0,536.8 812.0,534.3 802.0,536.0 790.0,539.4 786.0,541.6 779.0,547.1 759.9,564.0 744.2,576.0 733.9,586.0 731.1,590.0 730.0,593.0 729.5,597.0 729.2,633.0 730.2,637.0 733.0,639.6 736.0,640.4 758.0,641.7 769.0,642.9 833.9,643.0Z"/>
<path fill="#ffb300" fill-rule="evenodd" d="M983.0,709.0 0.0,709.0 0.0,579.5 9.0,580.0 585.0,580.0 589.0,579.6 591.0,578.2 596.0,573.1 603.0,564.4 607.4,558.0 613.7,547.0 617.0,539.2 619.6,531.0 621.3,522.0 621.9,514.0 621.8,509.0 621.0,507.0 604.0,489.7 601.0,485.4 598.7,480.0 597.9,475.0 598.0,457.0 600.0,446.0 600.9,437.0 600.6,432.0 599.5,428.0 597.0,423.9 595.0,422.1 593.0,421.2 588.0,420.8 583.0,422.9 580.0,425.7 577.9,429.0 575.0,441.0 573.7,444.0 570.0,447.8 566.0,449.2 559.0,449.5 550.0,448.0 538.7,444.0 532.0,440.1 526.5,434.0 522.6,428.0 515.5,402.0 513.0,396.0 508.0,387.7 503.1,364.0 502.9,351.0 503.3,347.0 509.0,334.2 516.0,322.0 524.0,310.0 532.1,294.0 537.0,287.0 541.8,282.0 546.0,278.2 555.0,272.5 573.0,265.1 583.3,260.0 593.0,252.2 598.4,246.0 601.5,241.0 603.5,236.0 606.2,222.0 608.4,218.0 612.0,214.3 618.0,211.0 633.0,207.5 641.0,205.1 646.0,202.9 655.0,196.0 660.4,190.0 667.1,179.0 678.0,150.5 683.3,139.0 684.0,136.0 684.1,128.0 685.0,123.0 687.0,116.0 690.0,108.6 696.0,98.3 714.3,73.0 715.5,71.0 715.9,69.0 713.2,63.0 708.0,55.2 700.0,46.7 695.0,42.5 687.0,37.5 679.0,33.8 671.0,31.4 663.0,30.0 653.0,29.5 351.0,29.5 341.0,30.2 332.0,32.1 323.0,35.5 317.0,38.8 309.0,44.8 302.0,52.1 295.5,62.0 293.8,66.0 293.7,68.0 296.6,73.0 306.3,85.0 316.4,95.0 330.0,104.8 335.0,110.0 339.7,117.0 342.2,123.0 343.9,130.0 344.0,160.0 342.4,172.0 337.7,185.0 334.6,199.0 331.1,230.0 331.4,250.0 331.0,257.0 328.3,278.0 326.4,289.0 323.2,300.0 320.5,306.0 311.0,318.3 308.0,321.0 305.0,322.0 296.0,318.7 272.0,307.9 249.0,298.7 243.0,296.8 238.0,296.1 230.0,296.0 214.0,297.9 207.0,298.0 200.0,297.9 196.4,297.0 180.0,288.8 167.0,283.0 156.4,277.0 149.9,272.0 148.0,269.3 147.4,267.0 155.3,249.0 161.6,238.0 165.9,232.0 173.0,226.1 176.6,222.0 181.4,215.0 184.7,208.0 186.7,202.0 187.4,196.0 186.9,186.0 194.1,157.0 229.0,125.1 249.0,104.3 260.4,96.0 266.8,90.0 275.2,81.0 283.5,70.0 284.4,67.0 283.0,63.0 278.2,55.0 274.0,49.8 265.6,42.0 256.0,36.0 246.0,32.1 235.0,30.0 224.0,29.5 9.0,29.5 0.0,30.0 -0.0,0.0 983.0,-0.0 983.0,709.0ZM797.4,207.0 798.1,203.0 797.0,199.9 796.0,200.5 795.4,204.0 796.0,207.2 797.0,207.6 797.4,207.0ZM257.3,261.0 261.0,259.1 262.7,257.0 264.1,254.0 264.1,250.0 262.8,247.0 260.0,244.3 257.0,243.1 254.0,243.1 249.4,245.0 247.0,247.1 245.0,251.3 244.8,256.0 246.0,258.3 248.7,260.0 253.0,261.1 257.3,261.0ZM191.0,359.2 188.0,359.4 186.0,358.9 177.9,355.0 176.6,353.0 176.5,351.0 177.5,348.0 179.0,346.0 183.0,343.7 189.0,342.6 194.0,343.6 197.4,346.0 199.3,350.0 199.0,353.1 197.8,355.0 195.5,357.0 191.0,359.2ZM671.9,482.0 684.6,480.0 688.0,478.3 689.7,476.0 690.9,467.0 690.4,459.0 687.8,453.0 685.2,450.0 683.0,448.6 681.0,448.2 678.0,448.6 671.0,451.7 666.0,456.5 663.5,461.0 661.0,474.0 661.0,480.1 662.1,482.0 664.0,482.8 671.9,482.0ZM681.4,551.0 696.0,539.9 703.0,533.4 708.0,529.6 715.7,522.0 716.8,520.0 716.2,518.0 713.1,514.0 705.1,506.0 696.1,501.0 688.0,498.8 676.0,499.1 671.0,500.0 667.1,502.0 666.1,505.0 666.0,514.0 667.1,528.0 668.6,535.0 672.0,542.4 675.9,548.0 679.0,551.0 680.0,551.4 681.4,551.0ZM871.1,700.0 874.0,699.6 875.0,698.6 875.4,697.0 875.5,643.0 876.0,641.0 878.5,637.0 879.3,634.0 874.5,579.0 874.5,573.0 876.3,561.0 876.4,557.0 875.2,548.0 872.3,539.0 868.0,531.9 862.0,527.0 859.0,526.1 854.0,525.7 848.0,526.9 838.0,527.8 819.0,528.0 808.0,527.5 793.0,528.6 781.0,530.5 760.0,536.0 757.7,538.0 754.3,551.0 751.0,558.0 747.7,563.0 742.3,569.0 736.0,574.3 709.6,590.0 695.3,601.0 694.5,604.0 694.5,621.0 696.3,632.0 697.4,648.0 698.5,669.0 698.6,686.0 699.8,689.0 704.0,691.7 713.0,695.9 719.0,697.8 727.0,699.3 736.0,700.0 871.1,700.0Z"/>
<path fill="#ffcc00" fill-rule="evenodd" d="M302.0,312.1 295.0,312.1 288.0,309.8 261.7,298.0 249.0,290.5 244.0,288.4 239.0,287.7 234.0,287.7 204.0,291.4 200.0,291.0 197.0,289.1 190.0,282.7 174.0,271.5 166.4,264.0 164.3,261.0 164.2,259.0 164.9,257.0 168.7,252.0 182.0,241.4 195.3,227.0 205.4,214.0 208.0,208.7 211.0,197.7 213.5,174.0 219.6,159.0 225.8,149.0 235.0,137.5 242.0,130.4 247.0,127.9 269.0,125.0 296.0,125.3 329.0,127.6 332.5,129.0 334.3,132.0 334.7,158.0 329.4,183.0 327.7,197.0 324.7,229.0 323.5,262.0 321.0,282.5 317.5,296.0 315.0,300.9 306.7,310.0 302.0,312.1ZM975.0,643.1 899.0,642.5 884.0,641.9 880.0,640.6 879.4,639.0 880.6,635.0 880.8,632.0 879.9,602.0 879.7,555.0 876.5,540.0 873.8,532.0 868.4,522.0 864.0,518.4 857.6,516.0 853.0,515.5 837.0,519.2 821.0,521.0 796.0,519.0 770.0,518.3 748.0,513.7 739.2,509.0 726.7,504.0 704.0,497.9 695.0,496.2 675.0,494.9 664.0,495.5 662.0,497.3 661.3,501.0 662.3,584.0 662.3,632.0 662.8,635.0 664.9,638.0 665.4,640.0 664.0,641.9 662.0,642.6 655.0,642.8 652.0,641.9 648.4,639.0 647.3,637.0 646.5,633.0 647.1,488.0 646.5,484.0 645.6,483.0 644.0,482.6 623.0,482.6 610.0,481.9 606.0,480.9 603.3,479.0 601.7,476.0 601.3,472.0 601.3,455.0 603.0,439.0 602.9,433.0 602.0,428.0 600.8,425.0 598.0,421.2 595.0,419.0 591.0,418.0 587.1,418.0 583.0,419.5 580.0,421.3 577.3,424.0 575.4,427.0 572.5,434.0 571.3,439.0 570.0,441.3 567.1,444.0 563.0,445.1 559.0,445.1 551.5,444.0 540.6,440.0 535.0,436.3 530.0,430.4 527.9,427.0 527.0,425.0 521.4,403.0 518.8,395.0 511.1,379.0 506.8,365.0 506.8,350.0 508.8,344.0 512.0,338.0 521.0,324.9 529.5,314.0 543.0,291.2 549.5,284.0 559.0,277.6 563.6,276.0 574.0,273.6 580.0,271.5 588.0,267.8 592.7,264.0 603.5,250.0 606.6,245.0 608.9,239.0 611.1,227.0 613.0,223.0 614.7,221.0 620.0,217.0 637.0,211.6 648.0,206.6 657.0,199.2 663.0,193.2 676.4,176.0 687.0,164.0 693.0,158.3 703.0,150.4 704.9,146.0 705.5,134.0 707.0,131.1 709.0,129.7 736.0,126.6 743.0,126.2 972.0,125.6 977.0,126.3 979.0,127.3 983.0,131.6 983.0,636.6 981.6,639.0 979.0,641.6 975.0,643.1ZM798.4,218.0 801.5,216.0 804.4,211.0 805.1,208.0 805.2,202.0 804.5,196.0 802.7,192.0 800.0,189.3 797.0,188.7 793.0,190.5 790.5,194.0 788.7,203.0 788.6,207.0 789.3,211.0 792.0,216.0 795.0,217.9 798.4,218.0ZM259.1,271.0 271.0,269.1 277.0,266.0 280.0,263.0 282.1,260.0 283.4,256.0 283.5,252.0 282.9,249.0 281.5,246.0 273.0,237.7 269.0,235.9 257.0,234.6 254.0,235.1 250.0,236.7 245.0,239.4 242.1,242.0 240.1,245.0 238.6,249.0 237.6,253.0 237.6,256.0 239.4,262.0 243.0,266.2 253.0,270.6 259.1,271.0ZM190.0,356.1 187.5,356.0 180.7,353.0 179.7,352.0 180.0,349.6 182.8,347.0 186.7,346.0 191.0,345.9 193.7,347.0 196.0,349.4 196.0,352.0 193.0,355.0 190.0,356.1ZM667.3,484.0 686.1,481.0 690.0,479.4 692.2,477.0 693.6,467.0 692.7,458.0 689.7,451.0 687.0,447.8 684.0,445.6 682.0,445.1 679.0,445.4 671.0,448.9 665.1,454.0 662.5,458.0 660.0,469.0 659.4,480.0 660.0,482.0 662.0,483.7 664.0,484.2 667.3,484.0ZM782.0,478.0 785.0,476.0 787.4,472.0 788.2,466.0 787.0,461.0 784.9,458.0 780.8,455.0 777.0,454.4 773.8,455.0 771.0,457.2 769.0,462.0 768.3,467.0 769.0,470.8 771.0,474.4 774.1,477.0 778.0,478.3 782.0,478.0ZM846.4,509.0 848.5,507.0 850.0,503.9 850.8,501.0 850.9,498.0 850.1,494.0 849.0,491.9 847.0,490.3 845.0,490.0 842.9,491.0 841.0,493.3 838.7,499.0 838.4,503.0 839.1,506.0 841.0,508.7 844.0,509.7 846.4,509.0ZM726.0,571.2 720.0,571.9 709.0,569.7 706.0,568.0 703.5,565.0 700.3,556.0 700.2,552.0 702.0,547.0 707.3,541.0 715.0,538.2 719.0,537.4 722.0,537.4 733.0,540.2 735.0,541.6 737.0,544.0 741.0,553.0 741.1,557.0 739.9,561.0 738.0,564.6 735.9,567.0 726.0,571.2Z"/>
<path fill="#ffe600" fill-rule="evenodd" d="M213.0,268.0 209.0,268.6 207.0,268.0 197.8,261.0 196.9,259.0 201.0,253.8 212.0,241.9 225.5,225.0 226.1,221.0 223.7,208.0 222.5,196.0 223.1,185.0 224.2,180.0 226.0,175.6 231.1,168.0 244.0,155.0 250.9,141.0 257.8,134.0 262.6,130.0 266.0,128.3 270.0,127.5 287.0,127.8 300.0,129.2 306.5,132.0 320.0,140.2 321.4,142.0 321.9,144.0 321.9,154.0 317.6,177.0 316.4,179.0 312.0,181.7 308.0,186.0 296.0,205.6 289.0,211.6 285.0,214.3 270.0,219.1 259.0,220.9 242.0,221.0 233.0,222.7 227.0,225.3 225.4,227.0 221.5,234.0 216.8,247.0 215.9,255.0 217.2,266.0 216.0,267.4 213.0,268.0ZM973.0,640.0 889.0,640.0 885.0,639.8 882.3,639.0 881.8,638.0 883.1,632.0 883.0,556.0 880.0,532.0 878.2,527.0 871.9,518.0 868.0,513.9 859.8,507.0 857.2,497.0 853.7,490.0 850.0,486.5 846.0,485.6 842.0,486.6 837.3,490.0 831.3,497.0 825.0,506.8 823.0,508.0 819.0,508.5 811.0,508.3 799.0,504.5 797.0,504.4 783.2,513.0 776.0,515.4 772.0,516.1 760.0,514.5 749.0,511.6 746.4,510.0 740.0,504.2 735.0,500.9 731.0,499.3 723.0,497.3 704.0,493.7 695.0,492.6 667.0,492.0 664.0,492.4 662.0,493.4 659.8,497.0 659.4,502.0 659.5,632.0 661.0,639.0 660.0,639.7 658.0,640.0 653.0,639.2 650.6,637.0 649.5,633.0 649.5,489.0 648.7,483.0 647.0,481.1 645.0,480.5 613.0,480.2 609.0,479.6 606.0,478.1 604.6,476.0 604.0,473.0 604.3,433.0 602.3,425.0 599.0,419.9 597.0,418.0 594.0,416.5 586.0,415.2 577.8,417.0 557.0,425.0 554.0,424.8 551.0,423.5 547.3,421.0 543.7,417.0 536.0,403.9 525.0,383.0 521.5,375.0 519.0,365.0 518.6,356.0 520.2,349.0 524.8,339.0 530.7,329.0 534.4,324.0 544.0,313.4 555.1,297.0 560.8,291.0 564.8,288.0 591.0,277.7 599.2,272.0 606.0,263.2 610.0,255.6 614.1,246.0 618.7,230.0 621.9,225.0 627.8,221.0 633.0,218.8 639.0,217.2 658.0,213.4 662.0,212.1 663.9,211.0 674.9,192.0 683.7,180.0 693.0,170.9 711.2,157.0 715.5,151.0 719.1,142.0 728.2,133.0 732.0,130.5 737.0,129.2 744.0,128.8 972.0,128.8 977.0,129.9 979.9,133.0 980.5,135.0 980.7,139.0 980.7,496.0 980.2,529.0 980.0,632.0 979.7,635.0 978.1,638.0 976.0,639.4 973.0,640.0ZM804.9,224.0 808.0,222.2 810.5,220.0 814.8,214.0 816.0,211.4 819.7,198.0 822.2,191.0 825.9,185.0 829.0,183.1 834.0,182.8 842.0,184.6 846.0,186.2 851.0,189.3 874.0,207.0 876.0,208.3 876.3,208.0 876.9,204.0 877.5,147.0 877.0,144.0 876.0,142.8 874.7,142.0 872.0,141.8 813.0,141.8 808.5,142.0 806.3,143.0 805.2,146.0 805.4,156.0 804.6,160.0 787.4,189.0 785.4,195.0 784.2,204.0 785.6,214.0 787.6,218.0 790.0,220.9 793.0,222.9 797.0,224.5 801.0,224.7 804.9,224.0ZM299.0,307.2 297.0,307.9 293.0,307.5 290.0,306.4 287.0,304.5 281.8,300.0 276.0,293.0 271.8,286.0 272.0,284.3 273.1,283.0 282.0,280.4 289.0,273.0 294.0,270.8 299.0,271.2 301.8,273.0 305.4,278.0 306.7,283.0 306.6,291.0 305.4,296.0 303.6,300.0 299.0,307.2ZM668.9,485.0 680.0,483.6 690.0,481.6 694.0,479.7 696.1,477.0 696.8,467.0 695.7,460.0 694.2,455.0 692.4,451.0 690.3,448.0 687.0,444.9 684.0,443.2 681.0,442.9 678.0,443.4 670.0,447.2 667.0,449.3 663.4,453.0 660.5,458.0 658.0,473.0 658.2,482.0 659.2,484.0 661.0,485.0 664.0,485.5 668.9,485.0ZM789.2,487.0 791.0,486.1 792.0,484.3 793.5,480.0 794.4,475.0 794.0,466.0 791.0,459.0 785.8,454.0 780.0,450.9 774.0,449.8 770.0,450.1 767.4,451.0 764.5,454.0 762.5,461.0 762.3,469.0 763.1,473.0 764.8,477.0 769.0,481.6 773.0,483.8 789.2,487.0ZM723.0,567.1 719.0,567.1 713.0,565.4 709.4,563.0 707.6,560.0 706.4,555.0 706.7,551.0 710.0,546.0 713.0,544.1 719.0,542.7 724.0,543.4 730.0,546.2 732.7,550.0 734.3,556.0 732.9,561.0 731.4,563.0 728.6,565.0 723.0,567.1Z"/>
<path fill="#ffff00" fill-rule="evenodd" d="M258.0,207.2 254.0,207.8 249.0,207.3 241.0,205.3 238.0,203.5 234.2,198.0 232.7,194.0 232.5,189.0 234.2,184.0 239.0,178.8 248.0,174.0 254.0,169.9 259.0,164.9 262.2,156.0 264.4,136.0 265.1,133.0 266.3,131.0 267.8,130.0 270.0,129.5 281.0,129.3 295.0,130.3 300.0,131.9 303.1,135.0 306.7,141.0 309.2,146.0 309.8,149.0 306.5,171.0 304.8,176.0 301.7,182.0 298.9,186.0 294.0,190.4 284.0,196.7 274.0,201.7 258.0,207.2ZM975.0,637.0 971.0,637.4 907.0,637.4 887.4,637.0 886.9,636.0 887.3,558.0 886.5,535.0 885.8,529.0 883.0,523.2 873.0,511.8 866.7,503.0 861.3,494.0 856.7,488.0 853.0,484.5 849.0,482.9 843.0,483.4 838.0,485.7 821.0,495.6 817.0,496.9 813.0,496.6 805.0,491.2 802.3,488.0 801.0,484.0 798.9,468.0 796.9,463.0 792.7,457.0 786.2,452.0 781.0,449.3 771.0,446.3 767.0,446.2 762.0,448.8 760.1,451.0 759.2,453.0 758.0,460.7 759.0,473.2 762.0,479.6 765.9,484.0 771.0,487.0 779.0,490.0 781.0,491.6 782.6,495.0 782.8,501.0 781.7,505.0 779.8,509.0 777.0,512.0 774.0,513.8 771.0,514.6 768.0,514.5 757.0,512.6 751.0,511.0 748.0,509.6 738.0,497.0 733.0,494.4 704.0,489.8 680.5,488.0 676.0,487.1 695.0,483.2 697.0,482.0 698.9,480.0 700.3,476.0 700.5,469.0 699.9,465.0 697.6,457.0 695.1,451.0 692.2,447.0 687.0,442.5 684.0,441.1 681.0,440.7 676.0,441.9 670.0,444.8 665.5,448.0 661.7,452.0 659.8,455.0 658.6,458.0 656.1,473.0 655.7,484.0 657.0,486.4 661.8,489.0 658.4,493.0 657.4,496.0 657.0,499.0 657.1,637.0 654.6,637.0 652.6,635.0 652.0,631.0 652.0,498.0 651.6,486.0 650.9,483.0 649.0,480.4 646.0,479.2 616.0,479.0 611.0,478.3 608.2,477.0 607.1,475.0 606.9,473.0 605.5,434.0 604.0,427.0 602.0,422.4 598.8,418.0 594.0,414.9 587.0,413.0 579.0,412.9 572.0,411.8 561.0,406.6 555.0,402.5 544.4,392.0 535.9,380.0 533.8,375.0 531.8,368.0 531.6,358.0 534.9,346.0 538.2,338.0 541.0,332.9 544.0,329.2 553.8,321.0 571.0,299.4 575.3,296.0 582.0,291.9 593.0,288.7 597.0,286.8 606.0,280.3 610.2,276.0 616.3,266.0 625.6,234.0 627.7,230.0 630.0,227.6 635.0,224.4 640.0,223.3 647.0,223.6 665.0,227.2 672.0,226.4 676.0,224.7 677.4,222.0 678.7,212.0 680.8,203.0 682.4,198.0 684.4,194.0 689.5,186.0 693.0,182.1 718.0,163.9 723.2,159.0 726.0,154.9 730.0,146.9 731.1,143.0 731.8,135.0 732.6,133.0 734.0,131.9 738.0,130.6 745.0,130.1 972.0,130.1 976.3,131.0 978.9,134.0 979.4,139.0 979.4,497.0 978.4,523.0 977.5,577.0 977.4,632.0 977.0,635.1 975.0,637.0ZM805.6,229.0 809.0,227.6 814.0,224.2 817.6,220.0 820.8,213.0 822.4,203.0 823.6,199.0 827.8,189.0 830.0,186.9 835.0,187.0 842.0,188.7 844.9,190.0 849.0,192.5 863.0,204.5 874.0,212.4 877.0,213.3 879.0,212.1 880.0,208.0 880.0,147.0 879.6,144.0 877.6,141.0 876.0,140.0 873.0,139.5 811.0,139.5 802.0,140.7 799.0,142.4 798.1,145.0 797.1,157.0 795.2,161.0 789.0,171.1 782.6,187.0 779.9,201.0 779.8,207.0 780.9,214.0 782.2,218.0 784.6,222.0 788.0,225.7 791.0,227.7 796.0,229.4 801.0,229.6 805.6,229.0ZM297.0,302.1 294.0,302.6 291.1,301.0 288.8,297.0 287.2,291.0 287.6,284.0 289.0,279.5 291.6,276.0 295.0,274.8 297.0,275.0 298.8,276.0 301.0,278.7 302.0,281.0 302.8,286.0 302.9,289.0 302.0,294.2 300.0,298.7 297.0,302.1ZM721.0,562.0 715.9,561.0 714.0,559.4 712.8,557.0 712.7,554.0 713.3,552.0 715.0,549.6 717.0,548.5 720.0,548.2 722.6,549.0 725.0,550.5 726.5,553.0 727.0,556.0 726.0,559.1 724.2,561.0 721.0,562.0Z"/>
<path fill="#ffffff" fill-rule="evenodd" d="M963.0,561.4 959.0,561.8 955.0,560.5 952.0,558.8 944.8,553.0 937.0,550.1 930.0,549.8 923.0,551.7 919.0,551.9 915.0,550.7 906.0,545.8 902.4,542.0 895.6,530.0 891.0,524.0 879.5,514.0 873.0,506.0 864.0,492.0 860.2,487.0 856.0,482.8 853.0,480.9 849.0,479.8 843.0,480.2 838.3,482.0 819.0,491.5 816.0,491.9 813.0,490.9 808.9,488.0 806.0,484.5 805.0,482.0 802.0,467.0 799.0,461.0 795.0,455.7 792.0,453.0 784.0,448.2 771.0,443.2 768.0,442.9 765.0,443.3 761.4,445.0 758.8,447.0 756.5,451.0 754.9,460.0 755.3,468.0 756.0,472.0 757.6,476.0 760.6,481.0 764.5,485.0 777.0,491.6 778.9,494.0 778.9,500.0 776.6,506.0 773.5,510.0 769.0,512.4 765.0,512.7 760.0,512.0 752.7,510.0 749.0,508.3 746.0,504.5 740.0,493.1 737.0,489.8 734.0,487.8 731.0,487.2 716.0,486.5 707.0,485.2 703.0,484.0 702.3,482.0 703.5,477.0 703.3,467.0 701.6,459.0 699.5,453.0 696.6,448.0 693.0,444.0 687.0,439.2 683.0,437.5 679.0,437.6 672.0,440.4 666.0,443.9 661.4,448.0 657.3,454.0 654.0,468.5 652.0,473.4 649.9,476.0 646.0,477.0 633.0,477.4 618.0,477.3 614.0,476.3 611.6,474.0 610.5,470.0 606.3,432.0 604.2,425.0 600.8,419.0 598.0,416.0 594.0,413.5 587.0,411.2 579.0,410.2 565.0,401.6 560.2,398.0 555.0,393.0 550.7,388.0 548.1,384.0 544.2,371.0 543.1,365.0 542.7,358.0 543.9,352.0 546.6,346.0 553.0,339.3 570.0,325.8 580.1,319.0 589.0,310.5 592.0,308.4 616.0,299.9 623.0,296.4 629.0,292.4 637.0,288.9 643.0,287.4 656.0,285.4 662.8,283.0 671.0,279.1 674.0,276.5 676.0,273.5 677.3,270.0 678.3,258.0 680.5,250.0 682.6,244.0 687.0,234.9 688.9,229.0 691.8,205.0 695.2,195.0 698.6,189.0 706.0,181.1 711.0,177.7 724.1,171.0 727.4,168.0 732.0,162.5 734.2,158.0 736.8,149.0 737.8,144.0 738.1,135.0 739.0,133.0 743.0,131.9 764.0,131.7 832.0,132.4 971.0,132.4 975.0,132.9 976.8,135.0 977.5,498.0 976.0,514.6 969.5,548.0 966.3,558.0 965.0,560.0 963.0,561.4ZM256.0,200.0 249.0,200.2 245.0,199.0 241.0,195.0 240.0,192.3 240.0,190.0 241.0,187.9 243.0,185.9 257.0,178.7 265.0,172.1 266.6,170.0 268.5,165.0 272.1,146.0 275.0,134.0 277.0,132.6 280.0,132.4 294.0,134.7 297.3,136.0 300.0,139.6 303.1,149.0 303.0,151.0 301.1,157.0 300.0,168.2 297.8,175.0 294.0,180.2 289.0,183.9 269.9,194.0 256.0,200.0ZM801.7,236.0 812.1,233.0 816.0,232.4 845.0,234.9 871.0,235.2 876.0,234.8 879.0,232.7 880.2,230.0 881.0,218.0 882.7,209.0 882.7,149.0 882.4,144.0 881.7,142.0 879.0,138.7 877.0,137.4 873.0,136.9 810.0,137.1 799.0,138.2 797.0,139.1 795.0,141.0 794.1,143.0 793.0,150.0 791.7,154.0 784.6,167.0 777.1,184.0 775.1,192.0 774.0,200.0 774.0,210.0 775.7,221.0 778.0,225.4 783.0,232.0 785.0,233.6 788.0,234.8 796.0,236.1 801.7,236.0ZM845.0,210.0 842.0,210.1 831.0,208.2 826.8,206.0 826.0,205.0 826.0,202.6 828.0,200.1 832.8,198.0 842.0,197.0 845.0,197.3 846.1,198.0 847.0,199.9 847.4,206.0 847.0,208.3 845.0,210.0ZM639.0,265.1 636.0,265.8 633.0,264.0 631.0,259.9 629.9,254.0 630.0,245.3 631.1,238.0 633.1,234.0 635.0,232.7 637.0,232.3 640.8,233.0 644.0,235.7 646.4,240.0 647.3,244.0 647.3,250.0 645.3,257.0 642.1,262.0 639.0,265.1ZM841.3,278.0 843.0,276.1 843.3,274.0 841.9,259.0 840.1,247.0 839.0,244.7 837.3,243.0 832.0,241.6 821.0,240.4 818.0,240.5 806.0,242.5 802.0,245.0 799.1,248.0 798.1,250.0 798.2,253.0 799.0,255.0 801.0,257.1 812.0,262.4 821.7,271.0 829.9,277.0 833.0,278.2 837.0,278.9 841.3,278.0ZM807.9,303.0 814.0,299.4 816.0,296.9 817.8,293.0 818.0,290.4 817.5,288.0 816.1,286.0 814.0,284.7 808.0,284.0 802.0,285.6 797.3,289.0 795.1,293.0 795.0,298.1 796.0,300.2 797.7,302.0 799.6,303.0 803.0,303.5 807.9,303.0ZM715.6,435.0 717.9,433.0 718.8,431.0 718.7,427.0 717.6,425.0 716.0,423.8 713.0,423.3 711.0,423.7 709.0,425.0 707.8,427.0 707.4,429.0 707.8,431.0 709.0,433.1 711.2,435.0 713.0,435.4 715.6,435.0Z"/>
<path fill="#80ffff" fill-rule="evenodd" d="M735.0,233.1 726.0,233.4 719.0,232.5 715.0,230.6 711.0,227.0 706.0,219.0 703.4,210.0 702.7,204.0 704.4,196.0 706.5,192.0 709.0,189.0 715.0,185.4 722.0,182.5 736.0,181.0 740.7,179.0 745.0,175.0 749.0,169.0 754.8,156.0 757.3,152.0 760.8,149.0 763.0,147.9 767.0,147.3 770.0,147.9 773.0,150.1 775.2,154.0 776.0,158.0 775.8,164.0 774.6,168.0 772.5,172.0 764.0,180.8 759.9,186.0 758.0,190.0 757.3,197.0 759.6,210.0 759.6,216.0 758.6,220.0 756.0,224.2 751.0,228.3 743.0,231.5 735.0,233.1ZM960.0,550.1 951.0,548.4 944.0,546.0 933.0,540.5 921.0,535.4 917.3,533.0 915.0,531.0 913.7,528.0 913.0,516.1 912.0,514.0 910.0,513.8 902.0,515.9 897.0,516.4 892.0,515.4 887.0,512.7 883.6,510.0 878.8,505.0 864.0,483.6 861.0,480.6 857.0,477.7 853.0,475.7 849.0,474.7 836.0,475.4 831.0,474.9 817.0,470.3 810.0,465.6 805.0,460.6 797.0,451.0 793.0,447.6 785.0,441.7 773.0,436.4 769.0,435.9 765.0,436.6 760.0,438.9 757.0,441.4 753.9,446.0 749.6,457.0 744.0,469.0 744.0,470.0 750.0,474.8 758.0,486.7 760.0,487.8 765.0,489.0 768.2,491.0 770.0,493.0 770.6,496.0 770.2,499.0 768.9,501.0 766.0,503.8 764.0,504.3 761.0,503.8 757.0,502.0 755.0,500.2 747.4,482.0 742.0,473.0 734.0,475.5 724.0,476.9 716.0,477.3 711.0,476.4 708.5,474.0 707.0,469.6 705.8,462.0 706.8,454.0 708.3,450.0 710.2,447.0 719.9,439.0 722.0,436.5 723.8,433.0 724.9,428.0 724.3,422.0 722.0,417.1 718.4,413.0 714.1,411.0 707.0,411.2 697.0,414.3 684.0,414.2 681.0,415.1 675.2,418.0 661.0,428.8 655.0,434.8 650.0,442.9 641.2,462.0 636.8,469.0 635.0,470.3 632.0,471.0 623.8,470.0 621.0,469.1 619.8,468.0 618.4,465.0 609.4,433.0 604.5,421.0 601.2,416.0 597.0,411.5 589.0,404.6 574.4,396.0 569.6,391.0 564.1,384.0 557.8,373.0 554.5,364.0 553.7,357.0 555.0,352.1 558.4,347.0 566.0,342.8 594.4,337.0 602.5,334.0 608.3,331.0 624.0,320.2 642.2,310.0 663.7,295.0 671.6,289.0 692.5,271.0 694.6,267.0 696.1,257.0 698.6,250.0 702.0,245.0 707.0,241.4 712.0,240.2 722.0,241.9 727.0,244.0 736.0,249.8 742.0,251.5 746.0,251.6 751.0,250.8 759.0,247.6 763.0,247.9 765.2,250.0 766.6,254.0 766.6,265.0 763.7,275.0 758.3,285.0 756.7,290.0 756.5,293.0 757.2,296.0 761.0,301.6 764.0,305.2 768.5,309.0 777.0,314.2 782.0,316.3 785.0,316.5 796.0,315.3 803.0,317.9 806.0,318.4 810.0,317.8 817.0,315.3 844.0,304.3 848.0,303.9 850.0,304.7 851.3,306.0 854.3,312.0 860.6,329.0 863.5,345.0 864.0,351.0 868.6,379.0 869.0,385.0 871.2,396.0 874.0,404.1 879.6,415.0 886.0,430.2 890.0,435.8 918.1,464.0 931.9,476.0 944.0,489.8 952.1,498.0 952.5,499.0 952.0,500.4 946.9,504.0 946.6,506.0 947.0,507.8 949.0,511.2 953.0,515.0 961.0,519.9 964.1,521.0 965.0,522.6 965.8,527.0 966.2,533.0 965.5,544.0 964.5,547.0 963.0,549.0 960.0,550.1ZM725.6,354.0 728.6,352.0 729.6,350.0 729.1,348.0 726.7,346.0 724.0,344.9 720.0,344.7 716.3,346.0 714.0,348.0 713.6,351.0 716.0,353.5 721.0,354.6 725.6,354.0Z"/>
<path fill="#00ffff" fill-rule="evenodd" d="M765.0,168.4 763.0,168.1 762.0,166.8 761.0,163.2 760.8,160.0 762.5,156.0 764.0,154.8 766.0,154.3 767.5,155.0 769.0,156.9 769.5,161.0 768.0,165.5 766.9,167.0 765.0,168.4ZM732.0,227.2 725.0,227.6 720.0,227.0 715.0,224.5 710.0,219.7 706.4,214.0 704.5,208.0 704.2,203.0 705.6,197.0 707.7,193.0 710.1,190.0 712.0,188.5 718.0,185.7 725.0,183.9 743.0,184.7 748.0,181.5 752.0,177.5 754.0,177.1 755.2,178.0 755.6,180.0 752.4,186.0 750.9,193.0 751.2,199.0 753.2,209.0 753.1,215.0 752.3,218.0 750.0,221.0 746.5,223.0 741.0,225.0 732.0,227.2ZM716.0,290.0 713.0,289.6 710.4,287.0 708.1,280.0 707.3,276.0 706.6,266.0 706.8,262.0 709.0,257.3 712.0,255.8 715.0,256.9 717.1,259.0 720.2,265.0 721.3,270.0 721.8,277.0 720.8,283.0 718.5,288.0 716.0,290.0ZM962.0,546.4 960.0,546.9 956.0,546.5 951.0,545.6 946.5,544.0 942.9,542.0 934.0,534.8 922.0,528.1 921.0,527.0 920.3,525.0 919.2,514.0 917.5,512.0 915.8,511.0 911.0,510.4 901.0,513.1 896.0,513.5 892.0,512.4 887.0,509.7 880.0,503.0 865.0,481.7 862.2,479.0 857.0,475.7 853.0,473.8 849.0,472.9 837.0,473.4 832.0,472.8 820.0,468.5 816.0,466.5 812.0,463.6 807.3,459.0 794.0,442.5 786.0,437.0 774.0,431.9 770.0,431.2 766.0,431.6 762.0,432.7 759.0,434.9 756.0,438.6 753.0,444.3 748.4,456.0 745.4,462.0 741.0,468.2 738.0,471.0 734.0,472.6 723.0,474.5 717.0,474.4 712.4,473.0 710.0,470.6 708.3,466.0 707.8,461.0 708.8,455.0 712.8,447.0 721.0,439.5 724.0,436.0 726.3,431.0 727.1,427.0 726.9,420.0 724.5,414.0 721.0,409.9 716.0,407.5 708.0,407.2 697.0,409.8 684.0,410.8 680.0,412.1 674.0,415.4 660.0,426.4 653.1,434.0 648.5,442.0 640.0,460.2 636.0,467.3 634.0,468.9 632.0,469.3 627.4,468.0 624.3,466.0 622.9,464.0 615.3,440.0 606.6,421.0 602.0,413.0 598.0,407.9 591.0,400.8 577.6,391.0 568.0,378.7 563.2,370.0 560.7,363.0 560.0,358.0 561.0,354.1 562.3,352.0 564.0,350.5 573.3,346.0 596.0,339.3 604.0,336.1 612.0,332.1 626.0,322.2 648.0,308.4 664.0,296.8 684.0,280.5 688.0,278.5 696.0,276.6 697.7,277.0 698.6,278.0 708.0,293.9 712.0,296.9 722.0,301.4 734.0,303.6 741.0,303.9 750.0,302.7 752.0,303.0 758.3,310.0 764.0,314.8 774.0,320.3 780.0,322.5 784.0,323.0 795.0,321.5 803.0,324.1 809.0,324.3 819.0,321.5 845.0,312.5 846.0,313.0 847.0,314.8 852.5,330.0 861.5,386.0 862.6,390.0 866.9,399.0 876.7,415.0 884.0,431.5 887.0,435.9 915.9,465.0 930.0,477.2 942.0,490.7 948.5,497.0 949.2,499.0 944.9,504.0 944.8,507.0 946.0,510.3 947.7,513.0 950.8,516.0 956.8,520.0 959.0,522.9 962.0,524.5 964.1,528.0 964.7,532.0 964.4,542.0 963.4,545.0 962.0,546.4ZM729.0,365.0 738.0,364.1 741.0,363.1 744.8,361.0 748.0,358.0 750.0,354.5 750.8,350.0 750.1,345.0 748.8,343.0 743.0,338.5 739.0,336.4 732.0,335.3 722.0,334.9 718.0,335.2 714.0,336.3 707.0,339.3 704.0,341.4 701.0,346.0 699.4,351.0 700.0,354.4 703.1,359.0 707.7,362.0 715.0,364.0 721.0,365.0 729.0,365.0ZM843.9,388.0 846.6,387.0 848.0,385.7 849.2,383.0 848.9,381.0 847.1,378.0 845.0,376.3 843.0,375.7 840.0,375.9 838.0,377.0 836.0,379.8 835.6,382.0 836.0,384.0 839.0,387.0 841.5,388.0 843.9,388.0Z"/>
<path fill="#00e6ff" fill-rule="evenodd" d="M730.0,223.1 726.0,223.8 722.0,223.7 718.0,222.7 714.0,220.7 711.0,218.4 709.0,216.0 705.5,208.0 705.1,204.0 705.7,200.0 707.0,196.3 709.0,193.0 713.0,189.2 722.0,185.6 725.0,185.2 729.0,185.6 738.0,188.5 743.5,194.0 745.2,199.0 745.4,207.0 742.7,214.0 737.0,219.6 730.0,223.1ZM946.0,520.0 942.0,520.0 938.0,519.0 926.6,511.0 921.1,509.0 913.0,508.4 903.0,510.8 899.0,511.2 895.0,510.8 890.0,508.8 886.0,506.2 882.0,502.2 867.6,482.0 863.0,477.5 857.0,474.0 852.3,472.0 848.0,471.4 837.0,471.8 834.0,471.4 829.0,470.0 819.0,465.8 813.0,461.3 806.3,454.0 799.0,442.3 795.0,437.7 786.0,431.7 773.0,426.7 768.0,426.4 761.0,427.3 759.0,428.1 757.0,430.0 755.4,433.0 753.1,441.0 746.2,458.0 742.6,464.0 738.0,468.9 734.0,470.6 726.0,472.0 720.0,472.2 716.0,470.9 713.0,469.0 711.2,466.0 710.4,460.0 711.2,455.0 713.1,450.0 714.9,447.0 724.9,437.0 727.7,433.0 729.7,428.0 730.8,421.0 730.2,416.0 727.0,410.0 722.0,405.8 717.0,404.0 712.0,403.5 705.0,404.0 685.0,407.7 679.0,409.6 673.0,413.1 659.0,424.3 654.6,429.0 651.6,433.0 647.6,440.0 635.0,464.6 633.0,466.6 631.0,466.4 629.4,465.0 628.0,462.6 619.4,439.0 605.9,412.0 601.8,406.0 592.0,394.9 582.2,385.0 578.1,379.0 573.6,369.0 572.4,364.0 572.6,360.0 574.5,353.0 575.8,351.0 578.6,349.0 606.0,337.8 616.0,332.5 627.6,324.0 648.0,310.6 665.0,297.8 682.0,283.9 685.5,282.0 688.0,281.4 693.0,282.4 696.0,284.4 700.0,289.4 702.4,295.0 702.8,298.0 702.4,304.0 698.7,324.0 699.7,339.0 697.1,352.0 698.0,355.4 701.0,360.0 707.8,364.0 717.0,366.2 723.0,366.9 738.0,366.3 742.7,365.0 748.1,362.0 751.4,359.0 759.0,346.1 764.0,340.1 770.0,335.7 780.0,331.1 787.0,330.0 798.0,329.7 805.0,331.3 812.7,334.0 817.0,336.6 821.8,341.0 824.4,344.0 826.6,348.0 830.3,361.0 832.0,377.0 831.8,383.0 833.8,387.0 836.0,389.0 839.0,390.6 842.0,391.3 848.0,391.2 854.0,392.2 858.0,394.1 861.0,396.3 873.0,411.8 876.0,417.0 882.8,432.0 886.3,437.0 914.1,465.0 929.0,478.0 941.0,491.5 946.7,497.0 947.4,499.0 944.3,503.0 943.8,507.0 945.5,513.0 949.3,518.0 949.6,519.0 946.0,520.0ZM765.0,388.0 767.0,386.4 767.6,384.0 766.9,382.0 764.0,381.3 761.0,383.0 760.0,384.5 759.8,386.0 761.0,388.0 765.0,388.0ZM749.8,416.0 751.5,415.0 753.0,413.1 754.0,409.0 753.0,404.8 752.0,403.7 750.0,403.0 747.4,404.0 746.0,405.4 744.2,409.0 743.8,411.0 744.0,413.0 745.2,415.0 747.0,416.0 749.8,416.0ZM961.0,542.3 953.0,541.8 950.4,541.0 946.8,539.0 942.0,534.0 941.2,530.0 942.0,527.7 945.0,525.9 949.0,525.5 959.0,527.8 961.0,528.8 962.0,530.5 962.2,534.0 962.0,541.0 961.0,542.3Z"/>
<path fill="#00ccff" fill-rule="evenodd" d="M725.0,222.0 718.0,221.2 712.0,217.9 709.5,215.0 707.8,212.0 706.3,208.0 705.9,205.0 706.1,202.0 707.3,198.0 711.1,192.0 713.0,190.3 716.0,188.7 721.0,187.0 724.0,186.5 730.0,187.5 734.0,189.2 736.8,191.0 741.2,197.0 742.5,204.0 742.1,207.0 740.7,211.0 737.4,216.0 731.0,220.5 725.0,222.0ZM941.0,512.5 938.0,512.4 927.0,508.5 921.0,507.1 913.0,507.0 904.0,509.0 900.0,509.4 895.0,508.5 889.7,506.0 884.0,501.4 868.1,480.0 863.0,475.7 856.0,471.9 852.0,470.5 848.0,470.0 837.0,470.2 833.0,469.4 821.0,464.5 817.0,462.1 807.0,451.7 798.0,437.8 791.0,431.3 786.0,428.0 775.0,422.8 770.0,420.6 764.0,419.1 762.0,418.0 761.1,416.0 759.9,409.0 758.1,404.0 755.3,401.0 751.0,398.9 747.0,398.5 742.8,399.0 740.0,400.4 736.0,403.8 734.0,404.7 720.0,400.8 710.0,399.9 696.0,400.4 685.0,402.5 680.0,404.1 671.0,409.1 659.0,418.3 655.0,422.4 649.9,429.0 640.0,444.1 636.0,447.4 634.0,448.0 633.0,447.8 631.0,446.0 628.0,441.8 612.1,409.0 608.2,403.0 599.4,392.0 590.2,378.0 588.7,374.0 587.1,366.0 586.9,363.0 587.5,361.0 590.5,357.0 596.1,352.0 619.0,338.1 637.6,325.0 649.0,315.7 662.9,302.0 677.0,290.8 681.0,288.3 685.0,286.8 688.0,286.6 692.0,287.7 695.0,289.8 697.0,292.0 698.7,295.0 699.5,298.0 699.5,303.0 698.6,309.0 694.9,321.0 694.3,328.0 694.8,334.0 696.9,342.0 695.9,353.0 697.3,357.0 700.2,361.0 707.0,365.0 717.0,367.5 724.0,368.1 741.0,367.7 749.2,364.0 755.1,360.0 759.3,356.0 763.1,350.0 767.5,345.0 772.0,341.2 777.0,338.5 781.0,337.1 790.0,336.6 797.0,337.7 802.2,340.0 810.0,345.8 812.8,349.0 814.5,352.0 817.3,360.0 821.1,378.0 823.6,384.0 825.9,387.0 829.8,390.0 835.0,392.7 840.0,394.3 846.0,394.8 855.0,397.0 859.0,398.5 862.0,400.8 871.0,413.2 881.7,433.0 883.8,436.0 913.0,465.7 928.0,479.0 940.5,493.0 945.0,497.3 945.7,499.0 943.1,503.0 942.4,510.0 941.0,512.5ZM764.2,391.0 768.4,389.0 769.8,387.0 770.4,385.0 769.5,381.0 768.0,379.4 766.0,378.6 763.0,378.7 761.0,379.6 758.4,382.0 757.1,385.0 757.4,388.0 759.0,390.0 761.0,390.9 764.2,391.0ZM728.0,470.0 721.0,469.5 717.0,467.0 715.2,465.0 714.1,461.0 714.0,457.0 716.2,449.0 720.9,443.0 738.0,426.3 741.0,425.1 747.0,426.1 749.0,427.7 750.0,429.7 751.7,435.0 752.1,439.0 746.0,455.8 742.0,462.9 738.0,467.2 734.2,469.0 728.0,470.0Z"/>
<path fill="#00b3ff" fill-rule="evenodd" d="M727.0,220.2 724.0,220.7 720.0,220.5 713.7,218.0 709.9,214.0 706.9,207.0 707.2,201.0 710.0,195.0 714.0,190.9 718.0,189.0 722.0,187.9 725.0,187.9 729.0,188.9 734.5,192.0 738.2,197.0 739.6,202.0 739.8,205.0 739.3,208.0 736.5,214.0 731.9,218.0 727.0,220.2ZM940.0,506.2 938.0,506.8 934.0,506.7 922.0,504.8 916.0,504.6 902.0,506.9 897.0,506.0 890.5,503.0 887.6,501.0 884.0,497.2 869.0,478.2 863.0,473.8 856.0,470.2 853.0,469.2 849.0,468.6 838.0,468.7 834.0,467.9 823.0,463.3 818.0,460.4 808.1,450.0 799.0,435.8 792.0,428.0 789.0,425.5 779.7,420.0 773.0,414.3 768.7,412.0 761.4,401.0 759.0,398.7 755.0,396.3 746.5,393.0 743.0,390.9 741.0,391.2 733.8,395.0 729.0,396.6 724.0,396.7 697.0,394.4 685.0,396.3 679.0,398.1 668.0,404.4 656.4,413.0 650.7,419.0 638.0,435.3 636.0,436.7 635.0,436.5 632.0,432.0 625.5,417.0 619.4,406.0 615.5,400.0 607.1,389.0 604.0,383.1 601.3,376.0 600.7,373.0 600.8,367.0 602.1,363.0 605.0,358.0 610.9,353.0 618.8,347.0 646.0,328.3 656.6,317.0 666.1,304.0 676.0,294.9 680.0,292.4 683.0,291.3 687.0,291.1 691.0,292.1 694.0,293.9 695.8,296.0 697.1,299.0 697.5,303.0 696.3,311.0 691.5,322.0 690.2,330.0 690.2,334.0 691.4,338.0 694.3,344.0 693.9,352.0 694.4,355.0 696.2,359.0 699.0,362.6 708.0,367.3 720.0,369.7 735.0,370.1 738.0,371.0 742.0,373.4 743.0,373.1 746.0,369.8 763.0,361.3 765.1,359.0 769.0,351.9 776.4,345.0 779.0,343.9 782.0,343.5 789.0,343.8 793.0,345.1 795.5,347.0 800.2,352.0 803.6,357.0 809.4,380.0 810.9,384.0 813.6,388.0 818.5,392.0 825.8,395.0 839.0,398.0 857.0,401.0 861.0,402.9 863.0,405.4 876.4,428.0 881.8,436.0 911.0,466.8 924.3,479.0 938.1,495.0 942.0,498.8 942.2,500.0 940.0,506.2ZM765.8,393.0 769.0,391.5 771.3,389.0 772.6,386.0 772.4,382.0 770.9,379.0 769.0,377.2 766.0,376.3 762.0,376.4 758.0,378.7 755.2,382.0 754.4,385.0 754.6,388.0 755.4,390.0 758.0,392.5 762.0,393.6 765.8,393.0ZM733.0,466.1 728.0,466.5 725.0,466.1 722.9,465.0 721.0,463.0 719.9,461.0 719.4,457.0 720.0,452.5 721.0,449.5 725.0,443.7 732.8,438.0 741.0,435.8 744.0,436.0 747.0,437.0 748.2,438.0 749.0,440.1 744.0,454.0 739.0,462.3 736.1,465.0 733.0,466.1Z"/>
<path fill="#0099ff" fill-rule="evenodd" d="M725.0,219.2 719.0,219.2 714.0,217.0 710.0,212.5 708.4,209.0 707.7,206.0 708.5,200.0 711.4,195.0 716.0,191.2 722.0,189.3 727.0,190.0 732.3,193.0 736.0,198.0 737.2,203.0 736.8,208.0 734.0,213.7 729.0,217.8 725.0,219.2ZM639.0,409.1 637.0,407.4 631.4,398.0 618.0,380.8 614.7,372.0 614.7,369.0 615.3,367.0 622.9,356.0 631.1,348.0 639.6,342.0 653.0,335.0 662.0,329.6 663.3,327.0 669.6,307.0 673.2,301.0 676.6,297.0 680.0,294.4 683.0,293.2 687.0,293.1 690.0,294.0 693.0,296.0 695.0,299.5 695.6,304.0 694.9,309.0 693.2,313.0 682.0,330.0 678.9,336.0 678.3,339.0 678.9,341.0 682.7,348.0 685.7,362.0 689.0,370.2 690.3,372.0 693.0,374.2 702.2,379.0 701.0,379.6 696.0,379.8 688.0,381.2 683.0,383.0 675.4,387.0 660.0,396.2 647.0,402.7 641.0,408.0 639.0,409.1ZM905.0,495.1 901.0,496.0 896.0,495.4 893.0,494.5 887.0,491.4 879.0,485.7 870.0,475.9 862.0,470.3 856.2,468.0 852.0,467.1 839.0,467.0 835.0,466.4 822.5,461.0 816.3,456.0 810.6,449.0 808.1,445.0 802.0,431.5 795.0,418.3 788.3,409.0 780.4,401.0 780.4,399.0 784.4,392.0 785.7,385.0 785.3,380.0 784.3,376.0 782.2,372.0 778.7,367.0 779.7,363.0 781.6,360.0 783.0,359.0 785.0,358.9 789.2,363.0 793.7,380.0 796.4,388.0 798.4,392.0 801.0,394.3 805.0,396.1 814.0,398.7 835.0,400.6 851.0,403.2 857.0,404.8 860.0,406.9 879.2,435.0 898.5,456.0 903.5,464.0 910.5,478.0 915.3,490.0 914.0,491.5 905.0,495.1Z"/>
<path fill="#0080ff" fill-rule="evenodd" d="M724.0,216.1 719.0,216.4 715.0,214.5 712.0,211.4 710.1,207.0 710.4,202.0 712.4,198.0 716.0,194.7 721.0,192.8 724.0,193.1 728.0,195.1 730.6,198.0 732.1,202.0 732.3,206.0 730.8,210.0 727.6,214.0 724.0,216.1ZM688.0,312.1 686.0,312.9 683.0,312.5 680.8,311.0 679.2,308.0 678.7,304.0 679.2,300.0 680.4,298.0 683.0,296.3 686.0,296.1 688.3,297.0 690.0,298.4 691.3,301.0 691.8,304.0 691.1,308.0 690.0,310.3 688.0,312.1ZM654.0,374.2 650.0,374.5 647.0,373.5 643.7,371.0 641.3,367.0 641.1,362.0 641.9,359.0 644.4,356.0 648.0,354.1 652.0,353.7 655.0,354.6 658.2,357.0 660.6,361.0 661.0,365.0 659.9,369.0 657.6,372.0 654.0,374.2ZM886.0,478.0 883.0,478.6 880.0,477.4 876.0,474.3 868.0,466.7 864.0,464.2 852.0,462.2 841.0,463.4 837.0,463.2 827.0,459.1 823.0,456.4 820.0,453.0 815.4,446.0 814.4,443.0 813.6,438.0 813.1,428.0 813.7,424.0 816.4,418.0 820.0,413.2 823.0,410.9 828.0,408.6 833.0,407.2 837.0,406.9 845.0,408.2 850.0,409.7 855.0,412.5 861.0,417.1 894.9,458.0 895.6,462.0 894.1,468.0 890.8,474.0 886.0,478.0Z"/>
<path fill="#0066ff" fill-rule="evenodd" d="M722.0,212.2 720.0,212.3 717.0,210.8 715.0,208.7 714.0,206.0 714.3,203.0 716.0,200.1 718.7,198.0 721.0,197.3 724.0,197.9 726.0,199.4 727.1,201.0 727.7,204.0 727.5,206.0 726.2,209.0 724.0,211.3 722.0,212.2ZM686.0,306.7 685.0,306.8 683.8,305.0 683.9,302.0 685.0,301.0 686.0,301.4 687.0,303.3 687.0,305.1 686.0,306.7ZM653.0,368.4 650.0,368.6 647.0,366.0 646.4,364.0 646.6,362.0 648.0,360.0 649.0,359.4 652.0,359.4 654.9,362.0 655.4,364.0 655.0,366.0 653.0,368.4ZM883.0,473.0 879.0,470.8 870.0,462.3 866.0,459.9 852.0,457.7 841.0,459.0 838.0,458.9 830.0,455.7 826.0,453.1 823.4,450.0 819.7,444.0 818.4,437.0 818.6,426.0 821.0,421.0 824.0,416.7 826.1,415.0 830.0,413.1 834.0,411.9 837.0,411.6 843.0,412.6 848.0,414.0 858.5,421.0 890.2,459.0 890.8,462.0 889.5,466.0 886.0,471.5 883.0,473.0Z"/>
</g>
<g fill="none" stroke="#1a1a1a" stroke-width="1.2" stroke-linejoin="round" stroke-linecap="round">
<path d="M16.7,260.2 L18.3,265.8 L19.7,268.4 L21.3,269.6 L23.8,270.4 L28.2,271.6 L31.8,270.9 L36.2,268.1 L38.9,264.1 L41.1,256.9 L40.9,252.5 L38.1,248.5 L35.9,245.0 L33.1,240.0 L34.0,235.8 L39.0,230.2 L42.8,226.2 L47.2,221.8 L47.9,216.0 L45.1,206.0 L40.9,199.8 L33.1,194.2 L30.2,189.4 L30.8,182.6 L33.0,177.1 L38.0,169.9 L41.3,164.1 L44.7,156.9 L47.8,150.9 L52.2,143.1 L54.0,137.8 L54.0,132.2 L55.8,128.0 L60.2,123.0 L64.9,119.7 L72.1,116.3 L77.4,114.1 L83.6,111.9 L87.8,112.3 L92.2,115.7 L95.1,115.9 L97.9,113.1 L98.3,110.5 L96.7,106.5 L96.9,104.1 L99.1,101.9 L100.9,101.9 L103.1,104.1 L104.7,106.5 L106.3,110.5 L108.8,111.6 L113.2,110.4 L115.4,108.0 L116.6,103.0 L118.1,101.0 L120.9,101.0 L122.4,102.3 L123.6,105.7 L123.6,109.2 L122.4,114.8 L124.2,118.1 L129.8,120.9 L134.6,122.9 L141.4,125.1 L145.8,124.9 L150.2,122.1 L152.7,119.9 L154.3,117.1 L154.3,114.5 L152.7,110.5 L152.9,108.6 L155.1,107.4 L156.9,108.5 L159.1,112.5 L161.1,115.1 L163.9,117.9 L166.3,119.4 L169.7,120.6 L171.2,122.3 L171.8,125.7 L172.9,126.8 L175.1,126.2 L176.0,124.0 L176.0,119.0 L176.9,116.3 L179.1,114.7 L181.3,114.7 L184.7,116.3 L186.9,116.6 L189.1,115.4 L190.9,113.9 L193.1,111.1 L192.9,108.9 L190.1,106.1 L189.4,103.9 L190.6,101.1 L192.3,99.8 L195.7,99.2 L198.1,100.1 L200.9,102.9 L201.6,105.3 L200.4,108.7 L201.5,108.7 L205.5,105.3 L208.8,102.9 L213.2,100.1 L216.3,99.4 L219.7,100.6 L222.1,102.8 L224.9,107.2 L226.9,111.4 L229.1,117.6 L232.0,122.6 L237.0,129.4 L240.8,133.8 L245.2,138.2 L249.2,139.1 L254.8,136.9 L258.8,134.9 L263.2,132.1 L267.2,132.3 L272.8,135.7 L277.4,137.4 L283.6,138.6 L288.0,140.8 L293.0,145.2 L297.2,148.1 L302.8,150.9 L307.6,153.8 L314.4,158.2 L319.2,158.7 L324.8,155.3 L328.8,154.7 L333.2,156.3 L336.1,159.2 L338.9,164.8 L342.2,168.1 L347.8,170.9 L351.5,173.5 L355.5,177.5 L359.9,179.2 L367.1,179.8 L372.2,179.8 L377.8,179.2 L382.2,177.5 L387.8,173.5 L391.5,169.4 L395.5,162.6 L398.8,158.2 L403.2,153.8 L405.4,152.7 L406.6,154.3 L407.7,156.1 L409.3,158.9 L410.9,158.0 L413.1,153.0 L415.1,150.8 L417.9,150.2 L419.4,152.2 L420.6,157.8 L423.0,161.5 L428.0,165.5 L432.2,167.4 L437.8,168.6 L442.6,169.7 L449.4,171.3 L454.2,172.7 L459.8,174.3 L466.0,173.7 L476.0,170.3 L482.2,167.5 L487.8,163.5 L493.3,162.0 L501.7,162.0 L506.1,161.3 L508.9,159.7 L513.3,159.2 L521.7,159.8 L526.1,161.5 L528.9,165.5 L533.3,166.6 L541.7,165.4 L547.6,164.3 L554.4,162.7 L558.8,162.4 L563.2,163.6 L565.9,162.9 L568.1,160.1 L571.4,158.6 L577.6,157.4 L581.5,157.7 L585.5,159.3 L588.8,159.8 L593.2,159.2 L597.2,159.2 L602.8,159.8 L605.2,161.3 L605.8,164.7 L609.1,165.8 L616.9,165.2 L622.6,165.0 L629.4,165.0 L634.2,166.3 L639.8,169.7 L643.8,173.2 L648.2,178.8 L652.2,180.8 L657.8,180.2 L662.2,178.7 L667.8,175.3 L672.2,172.5 L677.8,168.5 L682.2,165.9 L687.8,163.1 L690.4,160.5 L691.6,156.5 L693.8,154.3 L698.2,152.7 L702.2,150.7 L707.8,147.3 L712.2,146.2 L717.8,146.8 L723.3,146.8 L731.7,146.2 L737.6,144.9 L744.4,142.1 L749.9,141.2 L757.1,141.8 L762.6,142.4 L769.4,143.6 L774.2,144.4 L779.8,145.6 L783.8,147.1 L788.2,149.9 L791.1,152.8 L793.9,157.2 L796.5,159.2 L800.5,159.8 L803.1,159.1 L805.9,156.9 L808.5,157.1 L812.5,159.9 L815.8,160.8 L820.2,160.2 L823.8,158.9 L828.2,156.1 L831.1,155.0 L833.9,155.0 L835.9,156.1 L838.1,158.9 L838.3,161.5 L836.7,165.5 L836.2,169.9 L836.8,177.1 L838.1,181.5 L840.9,185.5 L844.2,187.7 L849.8,189.3 L853.8,192.6 L858.2,199.4 L862.2,203.8 L867.8,208.2 L868.9,210.4 L866.1,211.6 L863.0,210.9 L858.0,208.1 L854.7,207.7 L851.3,209.3 L848.9,209.3 L846.1,207.7 L846.3,205.9 L849.7,203.1 L850.1,200.2 L847.9,195.8 L845.5,194.4 L841.5,195.6 L839.1,197.3 L836.9,200.7 L835.1,205.3 L832.9,213.7 L831.6,221.0 L830.4,231.0 L830.0,240.1 L830.0,252.9 L831.5,261.3 L835.5,269.7 L838.1,275.2 L840.9,280.8 L842.0,287.8 L842.0,300.2 L842.7,309.0 L844.3,319.0 L845.4,326.7 L846.6,336.3 L848.1,344.0 L850.9,354.0 L853.1,362.4 L855.9,373.6 L858.1,382.4 L860.9,393.6 L863.8,402.4 L868.2,413.6 L872.2,421.7 L877.8,431.3 L883.3,438.3 L891.7,446.7 L898.3,453.3 L906.7,461.7 L913.7,468.3 L923.3,476.7 L929.9,483.3 L937.1,491.7 L944.2,498.3 L954.8,506.7 L962.5,512.6 L971.5,519.4 L975.0,534.8 L975.0,567.2 L971.7,578.7 L963.3,575.3 L957.1,573.1 L949.9,570.9 L945.7,566.7 L942.3,558.3 L939.0,554.3 L934.0,552.7 L930.2,553.3 L925.8,556.7 L922.9,556.7 L920.1,553.3 L916.6,549.6 L910.4,543.4 L909.1,537.9 L911.9,530.1 L912.6,523.5 L911.4,514.5 L908.6,512.3 L902.4,515.7 L898.5,518.5 L894.5,522.5 L890.8,525.5 L885.2,529.5 L883.7,533.4 L885.3,539.6 L887.1,545.5 L889.9,554.5 L889.0,557.3 L884.0,555.7 L879.8,557.0 L874.2,562.0 L870.7,566.9 L867.3,574.1 L864.0,579.0 L859.0,584.0 L856.6,588.4 L855.4,594.6 L852.6,598.8 L846.4,603.2 L841.6,605.7 L835.4,607.3 L832.3,609.3 L830.7,612.7 L827.6,613.1 L821.4,610.9 L815.9,609.6 L808.1,608.4 L803.2,609.1 L798.8,611.9 L796.3,611.7 L794.7,608.3 L791.4,606.6 L784.6,605.4 L778.5,603.7 L769.5,600.3 L761.8,596.8 L751.2,591.2 L743.0,588.1 L733.0,585.9 L726.8,583.0 L721.2,578.0 L716.1,574.7 L708.9,571.3 L703.8,568.2 L698.2,563.8 L695.8,559.8 L695.2,554.2 L693.7,550.0 L690.3,545.0 L688.8,540.6 L688.2,534.4 L685.4,529.6 L678.6,523.4 L677.3,518.6 L680.7,512.4 L683.8,507.8 L688.2,502.2 L691.1,497.8 L693.9,492.2 L696.3,488.2 L699.7,483.8 L701.2,479.6 L701.8,473.4 L698.7,471.2 L690.3,471.8 L684.4,473.8 L677.6,478.2 L673.2,478.7 L668.8,475.3 L665.2,474.2 L660.8,474.8 L659.2,473.9 L659.8,471.1 L661.3,468.9 L664.7,466.1 L664.7,463.2 L661.3,458.8 L657.8,456.6 L652.2,455.4 L647.8,456.1 L642.2,458.9 L638.2,458.2 L633.8,453.8 L629.8,450.9 L624.2,448.1 L621.6,445.5 L620.4,441.5 L618.2,438.0 L613.8,433.0 L610.5,432.3 L606.5,435.7 L603.9,438.5 L601.1,442.5 L597.1,443.6 L589.9,442.4 L585.9,444.2 L583.1,449.8 L580.5,453.8 L576.5,458.2 L571.7,460.4 L563.3,461.6 L558.9,463.8 L556.1,468.2 L558.3,472.2 L566.7,477.8 L568.2,480.9 L563.8,483.1 L558.3,482.5 L548.7,478.5 L542.8,477.7 L537.2,479.3 L532.1,481.5 L524.9,485.5 L518.3,486.3 L508.7,484.7 L503.9,481.4 L501.1,474.6 L497.8,474.9 L492.2,482.1 L487.8,487.0 L482.2,492.0 L478.7,495.3 L475.3,498.7 L473.1,498.0 L470.9,493.0 L467.1,490.1 L459.9,487.9 L456.6,485.7 L455.4,482.3 L453.2,480.8 L448.8,480.2 L445.5,478.9 L441.5,476.1 L437.8,473.0 L432.2,468.0 L426.7,466.0 L418.3,466.0 L411.7,466.0 L403.3,466.0 L399.1,467.3 L396.9,470.7 L395.8,473.8 L395.2,478.2 L393.2,480.2 L388.8,480.8 L385.5,479.0 L381.5,474.0 L377.8,470.7 L372.2,467.3 L369.3,463.8 L367.7,458.2 L365.5,454.7 L361.5,451.3 L358.9,447.8 L356.1,442.2 L352.8,439.8 L347.2,439.2 L343.2,438.1 L338.8,435.9 L334.8,433.2 L329.2,428.8 L324.4,426.6 L317.6,425.4 L312.8,423.9 L307.2,421.1 L302.1,420.9 L294.9,423.1 L289.8,421.4 L284.2,414.6 L279.8,409.4 L274.2,402.6 L270.5,398.9 L266.5,396.1 L262.1,394.8 L254.9,394.2 L249.4,392.0 L242.6,387.0 L237.8,383.9 L232.2,381.1 L228.2,378.5 L223.8,374.5 L221.6,370.1 L220.4,362.9 L218.9,358.5 L216.1,354.5 L213.2,352.1 L208.8,349.9 L204.4,349.2 L197.6,349.8 L192.1,350.0 L184.9,350.0 L179.8,350.9 L174.2,353.1 L170.7,356.0 L167.3,361.0 L164.7,364.5 L161.3,368.5 L159.3,372.2 L157.7,377.8 L154.8,380.9 L149.2,383.1 L144.6,385.1 L138.4,387.9 L135.1,385.7 L132.9,377.3 L130.5,372.9 L126.5,370.1 L123.2,367.7 L118.8,364.3 L115.5,363.0 L111.5,363.0 L107.8,363.4 L102.2,364.6 L96.0,366.8 L86.0,371.2 L81.6,372.3 L80.4,370.7 L78.2,369.8 L73.8,369.2 L73.1,367.0 L75.9,362.0 L77.7,357.4 L79.3,350.6 L81.3,347.3 L84.7,345.7 L86.7,341.7 L88.3,333.3 L88.3,327.4 L86.7,320.6 L84.0,317.8 L79.0,317.2 L74.8,315.9 L69.2,313.1 L65.9,310.2 L63.1,305.8 L60.5,305.1 L56.5,307.9 L52.8,309.2 L47.2,309.8 L42.1,308.2 L34.9,303.8 L29.4,302.2 L22.6,302.8 L17.4,301.2 L10.6,296.8 L8.4,292.4 L9.6,285.6 L9.6,280.6 L8.4,274.4 L9.8,268.9 L14.2,261.1Z"/>
<path d="M239.0,132.0 L235.5,134.5 L232.0,137.0 L230.8,140.3 L230.2,143.7 L229.6,147.2 L228.3,150.4 L227.7,153.9 L226.0,157.0 L224.5,160.2 L222.1,163.1 L221.8,166.9 L220.0,170.0 L221.2,173.3 L221.3,176.9 L222.2,180.3 L223.1,183.6 L224.0,187.0 L223.8,190.2 L222.4,193.0 L221.1,195.9 L221.7,199.2 L220.0,202.0 L217.6,204.9 L215.6,208.3 L212.0,210.0 L210.2,212.7 L208.0,215.0 L204.9,216.1 L203.0,218.7 L200.0,220.0 L197.3,221.8 L194.7,223.9 L192.3,226.1 L190.7,229.4 L187.0,230.0 L184.9,232.7 L182.2,234.8 L179.7,237.1 L178.2,240.4 L175.0,242.0 L173.6,244.7 L172.2,247.4 L170.5,249.8 L167.7,251.6 L167.1,254.8 L165.0,257.0 L163.0,259.6 L160.5,261.8 L159.3,265.0 L157.1,267.4 L155.0,270.0 L151.7,270.9 L148.5,272.0 L145.5,273.8 L142.0,274.0 L138.5,271.5 L135.0,269.0 L131.8,270.5 L130.5,274.2 L126.8,275.1 L124.5,277.7 L122.0,280.0 L122.4,284.0 L122.0,288.0 L118.7,288.9 L116.9,291.6 L115.3,294.6 L112.4,296.0 L110.0,298.0 L107.2,300.2 L105.1,303.1 L102.2,305.2 L100.0,308.0 L97.2,310.0 L94.1,311.6 L91.0,313.2 L89.1,316.4 L86.0,318.0"/><path d="M357.0,179.0 L354.6,180.9 L352.5,183.2 L350.0,185.0 L348.9,188.3 L348.8,191.9 L347.4,195.1 L346.1,198.4 L344.4,201.5 L344.0,205.0 L342.4,208.2 L343.3,212.0 L342.1,215.3 L340.4,218.5 L340.0,222.0 L341.2,225.1 L340.0,228.0 L339.6,231.0 L338.5,234.0 L338.7,237.0 L339.0,240.0 L339.8,243.4 L340.5,246.8 L341.0,250.2 L340.3,253.8 L342.0,257.0 L340.9,260.3 L339.4,263.5 L337.6,266.5 L336.5,269.8 L335.0,273.0 L335.3,276.0 L336.2,278.9 L335.6,282.0 L336.1,285.0 L336.0,288.0 L334.2,291.1 L333.6,294.5 L333.0,298.0 L331.6,301.2 L331.2,304.7 L330.0,308.0 L327.8,310.7 L326.8,314.0 L324.8,316.8 L324.4,320.4 L322.0,323.0 L320.1,325.4 L319.5,328.7 L317.9,331.3 L315.0,333.0 L314.5,336.1 L314.1,339.2 L312.6,342.0 L312.0,345.0 L308.6,345.4 L307.3,348.8 L304.7,350.4 L301.9,351.5 L299.3,353.0 L297.0,355.0 L295.1,357.7 L293.1,360.3 L290.6,362.5 L288.7,365.2 L287.0,368.0 L285.1,370.9 L282.2,372.8 L279.8,375.2 L277.9,378.1 L275.0,380.0 L272.1,382.4 L269.9,385.4 L266.3,387.0 L264.0,390.0 L265.0,395.0"/><path d="M461.0,175.0 L459.9,178.3 L458.9,181.6 L458.4,185.1 L457.1,188.4 L457.3,192.1 L455.0,195.0 L454.3,198.2 L451.9,200.6 L452.0,204.2 L448.8,206.2 L449.0,209.8 L446.0,211.9 L445.0,215.0 L446.0,217.9 L445.3,221.1 L446.1,224.0 L447.7,226.9 L447.0,230.0 L445.6,232.8 L444.9,235.8 L445.4,239.0 L445.0,242.0 L444.3,245.0 L444.3,248.1 L442.4,250.9 L442.9,254.1 L442.0,257.0 L441.6,260.2 L441.8,263.5 L441.2,266.7 L441.3,269.9 L440.0,273.0 L438.0,275.7 L437.7,279.0 L435.8,281.7 L435.2,285.0 L434.0,288.0 L434.2,291.4 L433.6,294.7 L433.4,298.0 L432.7,301.3 L432.6,304.7 L432.0,308.0 L431.0,310.9 L430.6,314.0 L429.0,316.7 L426.3,318.9 L426.6,322.3 L425.0,325.0 L423.9,327.9 L421.5,329.9 L419.2,332.0 L419.2,335.6 L416.8,337.6 L415.0,340.0 L413.2,342.5 L411.6,345.2 L408.2,346.1 L406.4,348.6 L404.3,350.7 L402.5,353.2 L400.0,355.0 L398.7,357.9 L398.4,361.1 L397.1,364.0 L396.7,367.2 L395.0,370.0 L394.0,373.0 L390.9,374.5 L390.3,377.7 L388.2,379.9 L386.7,382.5 L385.0,385.0 L382.7,387.4 L380.2,389.6 L377.2,391.2 L375.1,393.8 L372.6,395.9 L370.0,398.0 L368.4,401.0 L366.1,403.6 L364.8,406.8 L363.4,409.9 L362.0,413.0 L361.4,416.1 L360.9,419.3 L358.4,421.8 L357.4,424.8 L357.0,428.0 L356.6,431.0 L355.6,433.9 L355.0,436.9 L355.0,440.0"/><path d="M556.0,161.0 L557.5,164.3 L560.0,167.0 L557.8,170.0 L557.0,173.8 L555.0,177.0 L557.7,179.2 L561.6,178.7 L564.2,181.3 L567.4,182.3 L570.4,183.8 L573.3,185.7 L576.5,186.7 L580.0,187.0 L582.9,189.1 L585.6,191.6 L587.0,195.0 L588.0,198.7 L590.0,202.0 L587.2,203.7 L584.0,204.0 L580.8,204.4 L578.4,207.1 L575.0,207.0 L574.7,211.0 L571.5,213.6 L570.0,217.0 L568.3,219.8 L566.8,222.8 L565.0,225.5 L563.9,228.6 L562.6,231.7 L560.0,234.0 L565.0,236.0 L564.9,239.5 L565.2,243.0 L565.4,246.6 L564.0,250.0 L569.0,252.0 L571.5,249.8 L573.4,247.2 L575.8,245.0 L577.3,241.9 L580.0,240.0 L581.3,236.5 L582.9,233.2 L584.7,230.0 L587.0,227.0 L591.0,225.6 L595.0,224.0 L598.6,225.5 L601.5,228.2 L605.0,230.0 L607.9,231.4 L610.5,233.7 L614.4,232.7 L616.8,235.4 L620.0,236.0 L623.0,236.9 L626.0,238.0 L629.3,238.0 L632.1,239.7 L635.0,241.0 L637.7,243.2 L641.0,244.6 L644.0,246.4 L647.1,248.0 L650.0,250.0 L651.8,254.0 L655.0,257.0 L660.0,258.0 L662.1,260.5 L665.4,262.0 L666.7,265.2 L669.6,267.1 L672.4,269.0 L673.0,272.8 L674.2,276.1 L677.0,278.0 L679.6,276.4 L681.8,274.1 L684.5,272.6 L687.8,272.3 L690.0,270.0 L693.4,272.1 L697.0,274.0 L699.6,276.0 L702.4,278.0 L705.0,280.0 L706.6,282.7 L707.9,285.6 L710.0,288.0 L708.0,291.2 L706.5,294.6 L705.0,298.0 L701.1,299.2 L697.0,299.0 L700.2,301.0 L703.9,301.9 L707.0,304.0 L705.9,307.1 L707.2,310.4 L706.1,313.5 L705.7,316.7 L706.3,319.9 L705.0,323.0 L701.6,324.6 L700.0,328.0 L701.9,330.6 L705.2,331.2 L707.2,333.7 L710.0,335.0 L710.1,338.0 L712.6,340.8 L711.0,344.0 L711.6,347.0 L712.0,350.0 L715.5,352.5 L719.0,355.0 L719.1,358.2 L717.9,361.0 L717.1,364.0 L715.5,366.8 L715.4,369.9 L715.0,373.0 L713.3,375.5 L710.8,377.4 L710.3,380.7 L708.6,383.2 L707.7,386.2 L705.0,388.0 L702.2,389.7 L700.5,392.4 L698.5,394.8 L696.6,397.3 L695.0,400.0 L692.3,402.6 L689.6,405.2 L687.0,408.0 L686.3,404.0 L686.0,400.0 L683.0,399.6 L680.0,399.0 L679.0,402.7 L677.0,406.1 L677.0,410.0 L674.2,412.2 L672.0,415.0 L669.8,417.8 L667.0,420.0 L664.2,422.1 L660.4,422.5 L657.8,424.9 L655.0,427.0 L653.3,430.3 L651.9,433.8 L650.0,437.0 L649.0,440.7 L646.7,443.7 L645.0,447.0 L643.4,450.2 L643.3,453.7 L642.0,457.0"/><path d="M570.0,217.0 L567.0,217.0 L564.0,216.8 L561.0,216.3 L557.9,217.3 L555.0,216.0 L552.0,217.0 L549.2,218.2 L545.8,217.8 L543.1,219.7 L540.0,220.0 L537.1,220.9 L534.1,221.5 L531.8,223.9 L529.0,225.0 L528.8,228.1 L527.7,231.0 L527.2,234.0 L527.3,237.1 L526.0,240.0 L525.3,243.4 L523.8,246.6 L525.0,250.2 L524.5,253.6 L524.0,257.0 L520.0,258.0 L520.1,261.5 L518.6,264.8 L519.1,268.4 L518.4,271.7 L517.0,275.0 L519.1,277.4 L522.5,277.7 L524.4,280.4 L526.8,282.3 L530.0,283.0 L530.3,286.0 L530.6,289.1 L530.2,292.2 L532.0,295.0 L530.5,298.1 L529.0,301.2 L527.8,304.5 L525.3,307.0 L522.8,309.5 L522.0,313.0 L519.7,315.1 L519.0,318.4 L517.2,320.8 L515.0,323.0 L514.7,326.1 L513.6,329.0 L513.3,332.0 L512.5,335.0 L512.0,338.0 L509.4,340.4 L507.1,343.1 L504.5,345.5 L502.0,348.0 L499.9,350.4 L498.0,353.0 L495.7,355.3 L494.0,358.0 L497.0,363.0 L500.7,365.3 L505.0,365.0 L505.1,368.3 L506.0,371.5 L507.7,374.6 L507.0,378.0 L505.7,380.9 L506.3,384.4 L504.9,387.3 L502.4,389.8 L502.0,393.0 L501.0,395.9 L501.1,399.0 L501.7,402.2 L500.0,405.0 L496.8,406.5 L493.7,407.9 L490.1,408.3 L487.0,410.0 L483.9,412.6 L483.5,416.6 L482.0,420.0 L483.1,422.9 L484.0,425.8 L483.8,429.0 L484.5,432.0 L485.0,435.0 L482.3,436.8 L479.0,437.0 L475.5,438.2 L472.3,440.3 L468.2,440.0 L465.0,442.0 L463.0,439.0 L460.0,437.0 L457.8,439.2 L457.1,442.4 L454.9,444.6 L453.7,447.4 L452.0,450.0 L451.0,453.1 L449.7,456.1 L449.1,459.3 L447.0,462.0 L448.0,465.0 L446.4,468.0 L447.1,471.0 L446.8,474.0 L446.3,477.0 L447.0,480.0"/><path d="M707.0,304.0 L710.3,303.0 L713.5,304.0 L716.7,304.9 L720.0,305.0 L722.7,303.5 L724.8,301.3 L727.9,300.3 L730.0,298.0 L732.9,297.0 L735.4,294.9 L738.3,294.0 L741.6,294.0 L744.4,292.6 L746.6,289.9 L750.0,290.0 L753.1,290.5 L756.1,289.6 L759.1,289.7 L762.0,288.1 L765.0,288.0 L766.2,291.4 L767.0,295.0 L770.8,295.8 L774.0,298.0 L775.0,303.0 L778.0,305.7 L782.0,305.0 L787.0,302.0 L790.0,302.5 L792.8,304.3 L796.1,303.4 L799.0,304.5 L802.0,305.0 L803.8,301.7 L807.0,300.0 L810.3,298.3 L811.8,294.8 L815.0,293.0 L817.6,290.9 L819.2,287.9 L820.4,284.8 L822.7,282.4 L825.0,280.0 L827.8,278.0 L831.0,276.5 L833.8,274.4 L837.0,273.0"/><path d="M695.0,471.0 L694.2,467.5 L694.3,464.0 L693.5,460.6 L694.0,457.0 L695.2,453.2 L698.0,450.3 L700.0,447.0 L703.9,445.0 L707.0,442.0 L710.0,447.0 L712.3,443.8 L716.0,442.3 L719.0,440.0 L722.7,440.2 L726.5,440.7 L730.0,442.0 L731.9,444.4 L734.7,445.7 L736.1,448.8 L739.0,450.0 L740.5,446.4 L743.2,443.5 L745.0,440.0 L746.9,437.2 L748.6,434.3 L751.0,432.0 L751.1,428.6 L750.2,425.3 L750.0,422.0 L753.2,420.6 L756.0,418.4 L758.6,415.9 L762.0,414.7 L765.0,413.0 L766.5,410.1 L768.6,407.6 L768.9,404.1 L771.0,401.5 L771.4,398.1 L774.4,396.0 L774.8,392.5 L777.0,390.0 L780.3,391.0 L782.0,394.0 L784.5,397.0 L787.0,400.0 L790.1,401.7 L794.0,401.0 L797.0,403.0 L799.2,406.2 L800.0,410.0 L803.2,410.5 L806.3,411.2 L808.9,413.3 L812.0,414.0 L814.9,416.6 L817.0,420.0 L820.9,418.5 L825.0,418.0 L825.9,421.2 L828.0,423.8 L828.5,427.1 L830.0,430.0 L832.7,428.1 L835.7,426.7 L838.5,425.1 L842.0,425.0 L845.4,425.8 L848.5,423.8 L851.8,423.7 L855.0,423.0 L857.4,425.0 L859.7,427.1 L862.2,429.0 L863.7,432.0 L867.0,433.0 L869.5,429.5 L873.0,427.0"/><path d="M892.0,450.0 L892.0,453.8 L890.0,457.0 L891.7,459.8 L892.9,462.7 L892.5,466.2 L893.5,469.2 L895.0,472.0 L892.0,474.3 L888.8,476.2 L885.0,477.0 L883.7,481.1 L882.0,485.0 L878.5,484.7 L875.7,488.3 L872.0,487.0 L870.0,492.0 L872.1,494.9 L875.2,496.8 L877.0,500.0 L875.6,503.2 L876.4,506.8 L875.0,510.0 L873.2,513.1 L871.9,516.6 L869.6,519.4 L867.0,522.0 L864.5,524.9 L863.2,528.4 L862.0,532.0 L859.9,534.9 L857.8,537.7 L855.0,540.0 L850.8,540.8 L847.0,539.0 L844.1,540.0 L841.0,540.5 L838.0,541.3 L835.0,542.0 L831.8,542.1 L828.5,542.8 L825.2,542.0 L822.0,542.0 L821.0,546.0 L820.0,550.0 L818.1,552.7 L816.8,555.6 L817.1,559.0 L816.0,562.0 L816.1,565.1 L815.2,568.0 L815.2,571.1 L814.9,574.1 L814.0,577.0 L812.7,580.2 L812.0,583.6 L809.6,586.3 L808.7,589.7 L807.2,592.8 L806.0,596.0 L805.9,599.0 L806.0,602.0 L805.9,605.1 L805.0,608.0"/>
</g>
<g font-family="Liberation Sans, sans-serif" font-size="12.5" fill="#222" text-anchor="middle"><text x="141" y="183">PC</text><text x="277" y="217">PR</text><text x="378" y="286">RE</text><text x="463" y="302">MO</text><text x="617" y="354">BO</text><text x="718" y="201">FE</text><text x="770" y="336">RA</text><text x="804" y="472">FC</text><text x="924" y="507">RN</text></g>
<g font-family="Liberation Sans, sans-serif" font-size="11" fill="#2a2a2a" text-anchor="middle"><text transform="translate(86,184) rotate(-60)" y="3.9">-50</text><text transform="translate(84,200) rotate(-60)" y="3.9">-45</text><text transform="translate(80,229) rotate(-70)" y="3.9">-40</text><text transform="translate(83,240) rotate(-70)" y="3.9">-35</text><text transform="translate(201,167) rotate(-8)" y="3.9">-25</text><text transform="translate(140,222) rotate(0)" y="3.9">-30</text><text transform="translate(221,199) rotate(-75)" y="3.9">-15</text><text transform="translate(178,244) rotate(-30)" y="3.9">-20</text><text transform="translate(150,265) rotate(-70)" y="3.9">-25</text><text transform="translate(136,285) rotate(-75)" y="3.9">-30</text><text transform="translate(104,357) rotate(25)" y="3.9">-35</text><text transform="translate(146,369) rotate(-80)" y="3.9">-50</text><text transform="translate(136,375) rotate(-70)" y="3.9">-45</text><text transform="translate(166,354) rotate(-80)" y="3.9">-40</text><text transform="translate(207,342) rotate(-80)" y="3.9">-35</text><text transform="translate(289,184) rotate(-15)" y="3.9">-5</text><text transform="translate(300,186) rotate(-55)" y="3.9">-10</text><text transform="translate(312,177) rotate(-55)" y="3.9">-15</text><text transform="translate(329,177) rotate(-65)" y="3.9">-20</text><text transform="translate(351,188) rotate(-80)" y="3.9">-30</text><text transform="translate(365,200) rotate(55)" y="3.9">-35</text><text transform="translate(393,222) rotate(-60)" y="3.9">-40</text><text transform="translate(264,259) rotate(-30)" y="3.9">-25</text><text transform="translate(282,256) rotate(-50)" y="3.9">-20</text><text transform="translate(259,283) rotate(0)" y="3.9">-15</text><text transform="translate(295,310) rotate(0)" y="3.9">-20</text><text transform="translate(287,316) rotate(-10)" y="3.9">-25</text><text transform="translate(304,331) rotate(20)" y="3.9">-30</text><text transform="translate(328,340) rotate(0)" y="3.9">-35</text><text transform="translate(301,347) rotate(-10)" y="3.9">-40</text><text transform="translate(401,385) rotate(65)" y="3.9">-50</text><text transform="translate(350,420) rotate(25)" y="3.9">-75</text><text transform="translate(450,307) rotate(0)" y="3.9">-40</text><text transform="translate(448,380) rotate(90)" y="3.9">-40</text><text transform="translate(377,273) rotate(-70)" y="3.9">-45</text><text transform="translate(470,214) rotate(0)" y="3.9">-50</text><text transform="translate(580,170) rotate(20)" y="3.9">-45</text><text transform="translate(585,186) rotate(0)" y="3.9">-40</text><text transform="translate(534,196) rotate(90)" y="3.9">-40</text><text transform="translate(632,197) rotate(-20)" y="3.9">-35</text><text transform="translate(652,194) rotate(-20)" y="3.9">-30</text><text transform="translate(623,214) rotate(-30)" y="3.9">-25</text><text transform="translate(635,211) rotate(-30)" y="3.9">-20</text><text transform="translate(626,239) rotate(-70)" y="3.9">-15</text><text transform="translate(680,217) rotate(-45)" y="3.9">-10</text><text transform="translate(703,214) rotate(80)" y="3.9">5</text><text transform="translate(747,202) rotate(90)" y="3.9">10</text><text transform="translate(730,221) rotate(-20)" y="3.9">15</text><text transform="translate(782,182) rotate(70)" y="3.9">-5</text><text transform="translate(792,182) rotate(-60)" y="3.9">-10</text><text transform="translate(830,200) rotate(10)" y="3.9">-5</text><text transform="translate(746,252) rotate(60)" y="3.9">5</text><text transform="translate(667,255) rotate(60)" y="3.9">-10</text><text transform="translate(676,267) rotate(70)" y="3.9">-5</text><text transform="translate(717,282) rotate(-60)" y="3.9">15</text><text transform="translate(721,295) rotate(-60)" y="3.9">10</text><text transform="translate(806,284) rotate(10)" y="3.9">-5</text><text transform="translate(821,309) rotate(10)" y="3.9">5</text><text transform="translate(780,330) rotate(-20)" y="3.9">15</text><text transform="translate(735,335) rotate(0)" y="3.9">10</text><text transform="translate(720,350) rotate(0)" y="3.9">5</text><text transform="translate(814,354) rotate(60)" y="3.9">20</text><text transform="translate(814,375) rotate(70)" y="3.9">25</text><text transform="translate(827,400) rotate(-10)" y="3.9">30</text><text transform="translate(854,385) rotate(-55)" y="3.9">15</text><text transform="translate(745,419) rotate(0)" y="3.9">15</text><text transform="translate(582,297) rotate(-10)" y="3.9">-10</text><text transform="translate(622,317) rotate(-40)" y="3.9">5</text><text transform="translate(647,312) rotate(-40)" y="3.9">10</text><text transform="translate(615,369) rotate(-45)" y="3.9">30</text><text transform="translate(669,354) rotate(75)" y="3.9">25</text><text transform="translate(672,357) rotate(60)" y="3.9">26</text><text transform="translate(541,357) rotate(80)" y="3.9">-5</text><text transform="translate(522,390) rotate(80)" y="3.9">-15</text><text transform="translate(575,422) rotate(-10)" y="3.9">-20</text><text transform="translate(514,255) rotate(85)" y="3.9">-45</text><text transform="translate(531,277) rotate(85)" y="3.9">-30</text><text transform="translate(510,305) rotate(-50)" y="3.9">-35</text><text transform="translate(530,307) rotate(-70)" y="3.9">-20</text><text transform="translate(512,327) rotate(-70)" y="3.9">-25</text><text transform="translate(537,474) rotate(30)" y="3.9">-50</text><text transform="translate(591,401) rotate(60)" y="3.9">15</text><text transform="translate(594,405) rotate(50)" y="3.9">10</text><text transform="translate(620,420) rotate(30)" y="3.9">25</text><text transform="translate(623,423) rotate(40)" y="3.9">26</text><text transform="translate(759,437) rotate(-70)" y="3.9">50</text><text transform="translate(779,449) rotate(-20)" y="3.9">-5</text><text transform="translate(760,461) rotate(-75)" y="3.9">-10</text><text transform="translate(824,447) rotate(-60)" y="3.9">50</text><text transform="translate(827,450) rotate(-50)" y="3.9">40</text><text transform="translate(876,466) rotate(85)" y="3.9">40</text><text transform="translate(710,477) rotate(0)" y="3.9">5</text><text transform="translate(719,490) rotate(-10)" y="3.9">-10</text><text transform="translate(732,489) rotate(-10)" y="3.9">5</text><text transform="translate(779,515) rotate(-20)" y="3.9">-15</text><text transform="translate(781,520) rotate(-20)" y="3.9">-20</text><text transform="translate(692,527) rotate(-60)" y="3.9">25</text><text transform="translate(835,534) rotate(0)" y="3.9">-30</text><text transform="translate(830,541) rotate(0)" y="3.9">-35</text><text transform="translate(867,507) rotate(70)" y="3.9">-10</text><text transform="translate(892,521) rotate(-20)" y="3.9">-5</text><text transform="translate(907,497) rotate(0)" y="3.9">30</text><text transform="translate(662,455) rotate(60)" y="3.9">-5</text><text transform="translate(858,541) rotate(-20)" y="3.9">-25</text><text transform="translate(863,544) rotate(-20)" y="3.9">-20</text><text transform="translate(868,546) rotate(-20)" y="3.9">-15</text><text transform="translate(830,402) rotate(0)" y="3.9">30</text><text transform="translate(770,421) rotate(-60)" y="3.9">35</text><text transform="translate(773,423) rotate(-50)" y="3.9">30</text><text transform="translate(726,450) rotate(-60)" y="3.9">28</text><text transform="translate(729,452) rotate(-60)" y="3.9">29</text><text transform="translate(641,457) rotate(-20)" y="3.9">40</text><text transform="translate(905,503) rotate(-40)" y="3.9">25</text></g>
<g stroke="#1a1a1a" stroke-width="1"><rect x="61.00" y="523" width="19.04" height="22" fill="#cc0000"/><rect x="80.04" y="523" width="19.04" height="22" fill="#e60000"/><rect x="99.07" y="523" width="19.04" height="22" fill="#ff0000"/><rect x="118.11" y="523" width="19.04" height="22" fill="#ff3300"/><rect x="137.15" y="523" width="19.04" height="22" fill="#ff6600"/><rect x="156.19" y="523" width="19.04" height="22" fill="#ff8000"/><rect x="175.22" y="523" width="19.04" height="22" fill="#ff9900"/><rect x="194.26" y="523" width="19.04" height="22" fill="#ffb300"/><rect x="213.30" y="523" width="19.04" height="22" fill="#ffcc00"/><rect x="232.33" y="523" width="19.04" height="22" fill="#ffe600"/><rect x="251.37" y="523" width="19.04" height="22" fill="#ffff00"/><rect x="270.41" y="523" width="19.04" height="22" fill="#ffffff"/><rect x="289.44" y="523" width="19.04" height="22" fill="#80ffff"/><rect x="308.48" y="523" width="19.04" height="22" fill="#00ffff"/><rect x="327.52" y="523" width="19.04" height="22" fill="#00e6ff"/><rect x="346.56" y="523" width="19.04" height="22" fill="#00ccff"/><rect x="365.59" y="523" width="19.04" height="22" fill="#00b3ff"/><rect x="384.63" y="523" width="19.04" height="22" fill="#0099ff"/><rect x="403.67" y="523" width="19.04" height="22" fill="#0080ff"/><rect x="422.70" y="523" width="19.04" height="22" fill="#0066ff"/><rect x="441.74" y="523" width="19.04" height="22" fill="#0033ff"/><rect x="460.78" y="523" width="19.04" height="22" fill="#0000ff"/><rect x="479.81" y="523" width="19.04" height="22" fill="#4000ff"/><rect x="498.85" y="523" width="19.04" height="22" fill="#8000ff"/><rect x="517.89" y="523" width="19.04" height="22" fill="#a600ff"/><rect x="536.93" y="523" width="19.04" height="22" fill="#cc00ff"/><rect x="555.96" y="523" width="19.04" height="22" fill="#e600ff"/></g>
<g font-family="Liberation Sans, sans-serif" font-size="10.8" font-weight="bold" fill="#222" text-anchor="middle" letter-spacing="1.1"><text transform="translate(61.0,557) scale(1.1,1)">-100</text><text transform="translate(99.1,557) scale(1.1,1)">-50</text><text transform="translate(137.1,557) scale(1.1,1)">-40</text><text transform="translate(175.2,557) scale(1.1,1)">-30</text><text transform="translate(213.3,557) scale(1.1,1)">-20</text><text transform="translate(251.4,557) scale(1.1,1)">-10</text><text transform="translate(289.4,557) scale(1.1,1)">5</text><text transform="translate(327.5,557) scale(1.1,1)">15</text><text transform="translate(365.6,557) scale(1.1,1)">25</text><text transform="translate(403.7,557) scale(1.1,1)">40</text><text transform="translate(441.7,557) scale(1.1,1)">75</text><text transform="translate(479.8,557) scale(1.1,1)">150</text><text transform="translate(517.9,557) scale(1.1,1)">300</text><text transform="translate(556.0,557) scale(1.1,1)">500</text></g>
<!-- logo -->
<rect x="79" y="418" width="104" height="72" fill="#fdfdfd"/>
<path d="M113.9,469 L118.4,469 L118.4,472.3 L113.9,476.2 Z" fill="#161616"/>
<g font-family="Liberation Sans, sans-serif" font-weight="bold" stroke-linejoin="round">
<g fill="#161616" stroke="#161616" stroke-width="1.5">
<text transform="translate(81.5,462.5) scale(0.64,1)" font-size="52">a</text>
<text transform="translate(101,462.5) scale(0.80,1)" font-size="40">r</text>
<text transform="translate(113,462.5) scale(0.62,1.08)" font-size="40">p</text>
</g>
<text transform="translate(128.3,462.5) scale(0.70,1)" font-size="40" fill="#159947" stroke="#159947" stroke-width="1.5">a</text>
<text transform="translate(144.3,462.5) scale(0.79,1)" font-size="40" fill="#e5322b" stroke="#e5322b" stroke-width="1.5">e</text>
<text transform="translate(120,479.3) scale(0.86,1)" font-size="9.6" fill="#222" stroke="#222" stroke-width="0.25">emilia-romagna</text>
</g>
<path d="M845,324 L850,322.5 L851.5,323.5 L847,326.5 Z" fill="#fff" stroke="#1a1a1a" stroke-width="0.9"/>
<g font-family="Liberation Sans, sans-serif" font-size="21.5" fill="#222" stroke="#222" stroke-width="0.3"><text x="2.5" y="660" textLength="67.5" lengthAdjust="spacingAndGlyphs">IGURA</text><text x="75" y="660" textLength="12.0" lengthAdjust="spacingAndGlyphs">9</text><text x="97" y="660" textLength="7.0" lengthAdjust="spacingAndGlyphs">-</text><text x="111" y="660" textLength="89.0" lengthAdjust="spacingAndGlyphs" font-style="italic">Gennaio</text><text x="208" y="660" textLength="57.0" lengthAdjust="spacingAndGlyphs" font-style="italic">2022,</text><text x="275" y="660" textLength="99.0" lengthAdjust="spacingAndGlyphs" font-style="italic">anomalia</text><text x="384" y="660" textLength="127.0" lengthAdjust="spacingAndGlyphs" font-style="italic">percentuale</text><text x="520.6" y="660" textLength="45.4" lengthAdjust="spacingAndGlyphs" font-style="italic">delle</text><text x="572.5" y="660" textLength="143.5" lengthAdjust="spacingAndGlyphs" font-style="italic">precipitazioni</text><text x="727" y="660" textLength="93.0" lengthAdjust="spacingAndGlyphs" font-style="italic">cumulate</text><text x="831" y="660" textLength="75.0" lengthAdjust="spacingAndGlyphs" font-style="italic">rispetto</text><text x="916" y="660" textLength="21.0" lengthAdjust="spacingAndGlyphs" font-style="italic">al</text><text x="-13.7" y="695.5" textLength="117.7" lengthAdjust="spacingAndGlyphs" font-style="italic">2001-2020</text><text x="112" y="695.5" textLength="33.0" lengthAdjust="spacingAndGlyphs" font-style="italic">(%)</text></g>
</svg>
</body></html>
